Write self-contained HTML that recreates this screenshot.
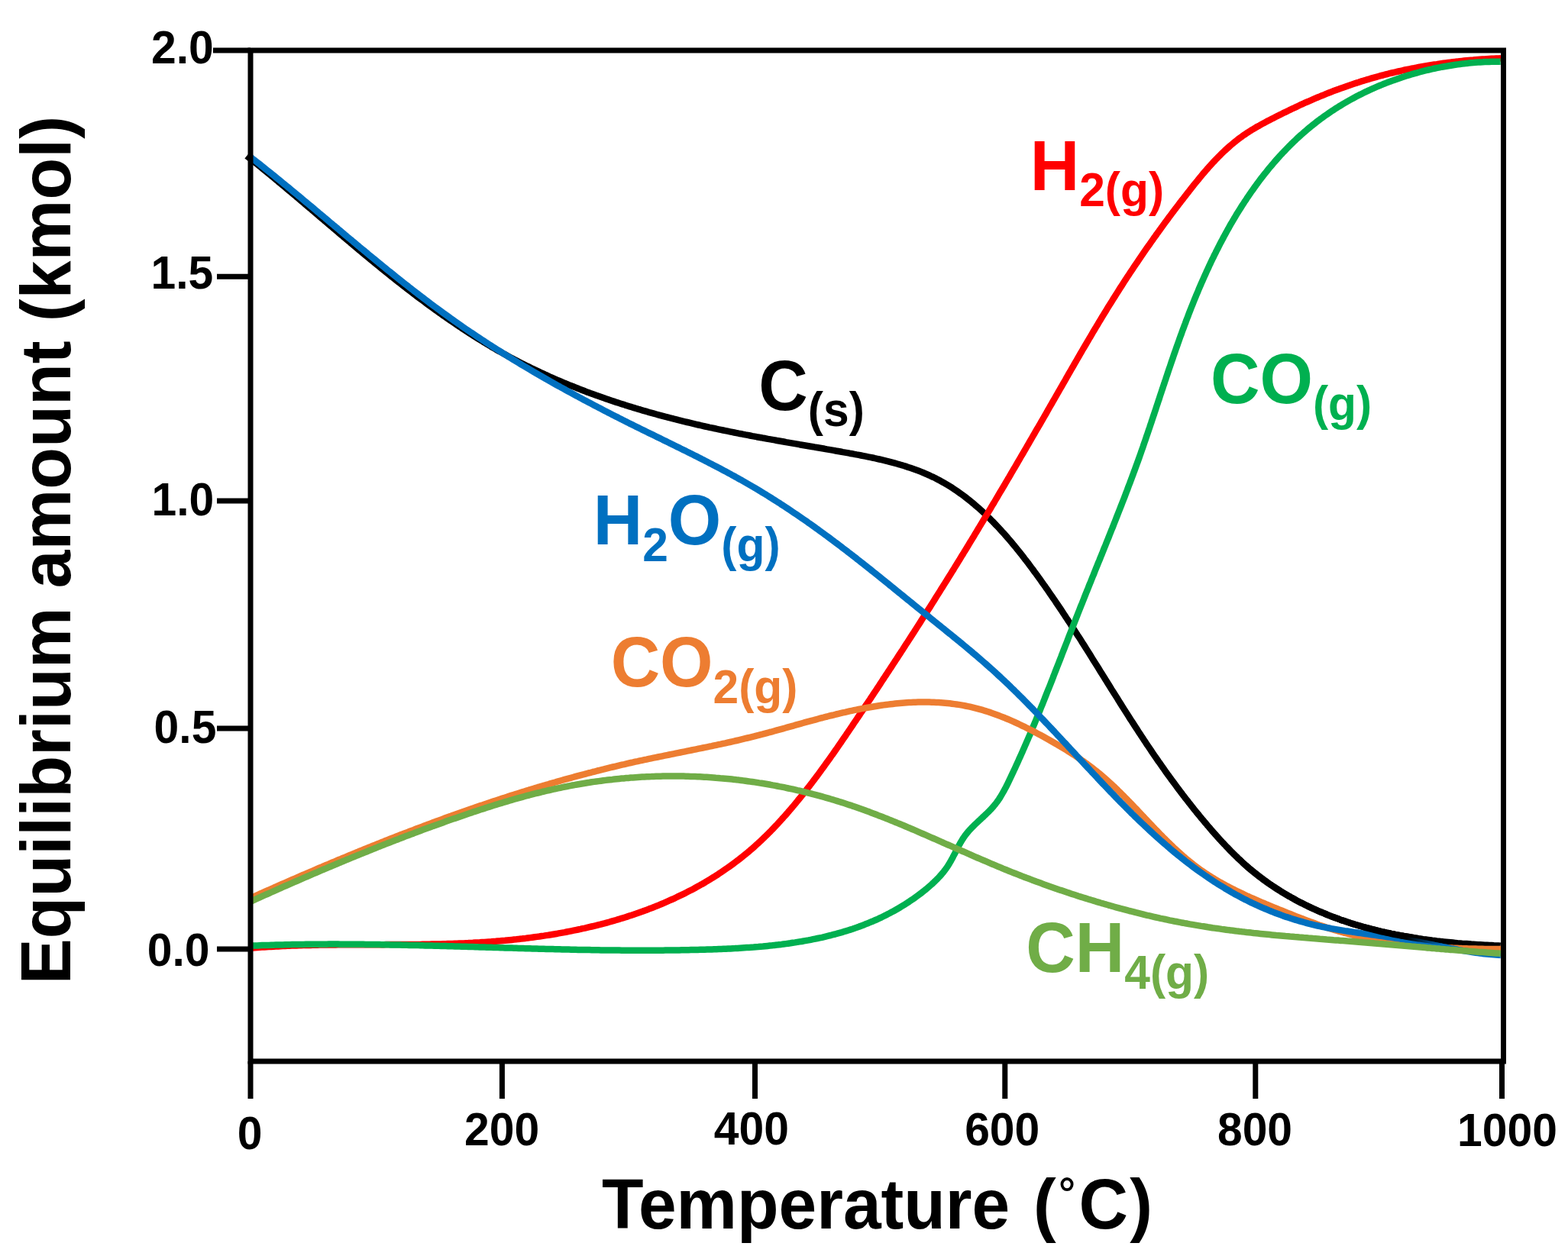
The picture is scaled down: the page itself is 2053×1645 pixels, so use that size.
<!DOCTYPE html>
<html><head><meta charset="utf-8"><title>Equilibrium amount vs Temperature</title>
<style>html,body{margin:0;padding:0;background:#fff;}svg{display:block;}</style>
</head><body>
<svg xmlns="http://www.w3.org/2000/svg" width="2053" height="1645" viewBox="0 0 2053 1645">
<rect width="100%" height="100%" fill="#fff"/>
<path d="M323.1,204.1 L325.4,206.0 L327.7,207.8 L330.0,209.7 L332.4,211.5 L334.7,213.4 L337.0,215.3 L339.3,217.2 L341.6,219.0 L343.9,220.9 L346.3,222.8 L348.6,224.7 L350.9,226.6 L353.2,228.5 L355.5,230.4 L357.8,232.3 L360.1,234.2 L362.4,236.1 L364.7,238.1 L367.0,240.0 L369.3,241.9 L371.6,243.8 L373.9,245.7 L376.2,247.7 L378.5,249.6 L380.8,251.5 L383.1,253.5 L385.4,255.4 L387.7,257.4 L390.0,259.3 L392.3,261.2 L394.6,263.2 L396.8,265.1 L399.1,267.1 L401.4,269.0 L403.7,271.0 L406.0,272.9 L408.3,274.9 L410.6,276.8 L412.9,278.8 L415.2,280.8 L417.5,282.7 L419.8,284.7 L422.1,286.6 L424.4,288.6 L426.7,290.5 L429.0,292.5 L431.3,294.5 L433.6,296.4 L435.9,298.4 L438.2,300.3 L440.5,302.3 L442.8,304.2 L445.1,306.2 L447.4,308.1 L449.7,310.1 L452.0,312.0 L454.3,314.0 L456.6,315.9 L458.9,317.9 L461.2,319.8 L463.5,321.8 L465.8,323.7 L468.2,325.7 L470.5,327.6 L472.8,329.5 L475.1,331.5 L477.4,333.4 L479.8,335.3 L482.1,337.3 L484.4,339.2 L486.8,341.1 L489.1,343.0 L491.4,345.0 L493.8,346.9 L496.1,348.8 L498.4,350.7 L500.8,352.6 L503.1,354.5 L505.5,356.4 L507.8,358.3 L510.2,360.2 L512.5,362.1 L514.9,363.9 L517.3,365.8 L519.6,367.7 L522.0,369.6 L524.4,371.4 L526.7,373.3 L529.1,375.1 L531.5,377.0 L533.9,378.8 L536.3,380.7 L538.6,382.5 L541.0,384.3 L543.4,386.2 L545.8,388.0 L548.2,389.8 L550.6,391.6 L553.1,393.4 L555.5,395.2 L557.9,397.0 L560.3,398.8 L562.7,400.6 L565.2,402.4 L567.6,404.1 L570.0,405.9 L572.5,407.6 L574.9,409.4 L577.4,411.1 L579.8,412.9 L582.3,414.6 L584.7,416.3 L587.2,418.0 L589.7,419.7 L592.1,421.4 L594.6,423.1 L597.1,424.8 L599.6,426.5 L602.1,428.1 L604.6,429.8 L607.1,431.4 L609.6,433.1 L612.1,434.7 L614.6,436.3 L617.2,438.0 L619.7,439.6 L622.2,441.2 L624.8,442.8 L627.3,444.4 L629.8,445.9 L632.4,447.5 L635.0,449.0 L637.5,450.6 L640.1,452.1 L642.7,453.7 L645.3,455.2 L647.8,456.7 L650.4,458.2 L653.0,459.7 L655.6,461.1 L658.3,462.6 L660.9,464.1 L663.5,465.5 L666.1,466.9 L668.8,468.4 L671.4,469.8 L674.1,471.2 L676.7,472.6 L679.4,474.0 L682.0,475.3 L684.7,476.7 L687.4,478.0 L690.1,479.4 L692.8,480.7 L695.5,482.0 L698.2,483.3 L700.9,484.6 L703.6,485.9 L706.3,487.2 L709.0,488.5 L711.8,489.7 L714.5,491.0 L717.2,492.2 L720.0,493.5 L722.7,494.7 L725.5,495.9 L728.2,497.1 L731.0,498.3 L733.8,499.4 L736.5,500.6 L739.3,501.8 L742.1,502.9 L744.9,504.1 L747.7,505.2 L750.5,506.3 L753.3,507.4 L756.1,508.5 L758.9,509.6 L761.7,510.7 L764.5,511.8 L767.3,512.9 L770.1,513.9 L772.9,515.0 L775.8,516.0 L778.6,517.0 L781.4,518.1 L784.3,519.1 L787.1,520.1 L790.0,521.1 L792.8,522.1 L795.7,523.0 L798.5,524.0 L801.4,525.0 L804.2,525.9 L807.1,526.9 L810.0,527.8 L812.8,528.7 L815.7,529.6 L818.6,530.6 L821.5,531.5 L824.3,532.4 L827.2,533.2 L830.1,534.1 L833.0,535.0 L835.9,535.9 L838.8,536.7 L841.7,537.6 L844.5,538.4 L847.4,539.2 L850.3,540.1 L853.2,540.9 L856.1,541.7 L859.1,542.5 L862.0,543.3 L864.9,544.1 L867.8,544.9 L870.7,545.7 L873.6,546.4 L876.5,547.2 L879.4,547.9 L882.4,548.7 L885.3,549.4 L888.2,550.2 L891.1,550.9 L894.0,551.6 L897.0,552.3 L899.9,553.0 L902.8,553.7 L905.7,554.4 L908.7,555.1 L911.6,555.8 L914.5,556.5 L917.5,557.2 L920.4,557.8 L923.3,558.5 L926.2,559.1 L929.2,559.8 L932.1,560.4 L935.0,561.0 L938.0,561.7 L940.9,562.3 L943.8,562.9 L946.8,563.5 L949.7,564.1 L952.6,564.7 L955.6,565.3 L958.5,565.9 L961.4,566.5 L964.4,567.1 L967.3,567.7 L970.3,568.2 L973.2,568.8 L976.1,569.4 L979.1,569.9 L982.0,570.5 L984.9,571.1 L987.9,571.6 L990.8,572.2 L993.8,572.7 L996.7,573.2 L999.6,573.8 L1002.6,574.3 L1005.5,574.9 L1008.5,575.4 L1011.4,575.9 L1014.4,576.4 L1017.3,577.0 L1020.3,577.5 L1023.2,578.0 L1026.2,578.5 L1029.1,579.1 L1032.1,579.6 L1035.0,580.1 L1038.0,580.6 L1041.0,581.1 L1043.9,581.6 L1046.9,582.2 L1049.8,582.7 L1052.8,583.2 L1055.8,583.7 L1058.7,584.2 L1061.7,584.7 L1064.7,585.2 L1067.7,585.8 L1070.6,586.3 L1073.6,586.8 L1076.6,587.3 L1079.6,587.8 L1082.5,588.4 L1085.5,588.9 L1088.5,589.4 L1091.5,589.9 L1094.5,590.5 L1097.5,591.0 L1100.5,591.5 L1103.5,592.1 L1106.5,592.6 L1109.5,593.1 L1112.5,593.7 L1115.5,594.2 L1118.5,594.8 L1121.5,595.4 L1124.5,595.9 L1127.4,596.5 L1130.4,597.1 L1133.4,597.7 L1136.4,598.3 L1139.4,598.9 L1142.4,599.5 L1145.4,600.2 L1148.3,600.8 L1151.3,601.5 L1154.2,602.2 L1157.2,602.9 L1160.1,603.6 L1163.1,604.3 L1166.0,605.1 L1168.9,605.9 L1171.8,606.7 L1174.7,607.5 L1177.6,608.3 L1180.5,609.2 L1183.4,610.0 L1186.2,610.9 L1189.1,611.9 L1191.9,612.8 L1194.7,613.8 L1197.5,614.8 L1200.3,615.8 L1203.1,616.8 L1205.9,617.9 L1208.6,619.0 L1211.3,620.2 L1214.0,621.3 L1216.7,622.5 L1219.4,623.8 L1222.1,625.0 L1224.7,626.3 L1227.3,627.7 L1229.9,629.1 L1232.5,630.5 L1235.1,631.9 L1237.6,633.4 L1240.2,634.9 L1242.7,636.4 L1245.2,637.9 L1247.6,639.5 L1250.1,641.2 L1252.5,642.8 L1254.9,644.5 L1257.3,646.2 L1259.7,647.9 L1262.1,649.7 L1264.5,651.5 L1266.8,653.3 L1269.1,655.1 L1271.4,657.0 L1273.7,658.9 L1276.0,660.8 L1278.2,662.8 L1280.5,664.7 L1282.7,666.7 L1284.9,668.7 L1287.1,670.7 L1289.3,672.8 L1291.5,674.9 L1293.6,676.9 L1295.8,679.1 L1297.9,681.2 L1300.0,683.3 L1302.1,685.5 L1304.2,687.7 L1306.3,689.9 L1308.4,692.1 L1310.4,694.3 L1312.4,696.6 L1314.5,698.8 L1316.5,701.1 L1318.5,703.4 L1320.5,705.7 L1322.5,708.0 L1324.4,710.3 L1326.4,712.7 L1328.3,715.0 L1330.3,717.4 L1332.2,719.8 L1334.1,722.2 L1336.0,724.5 L1337.9,726.9 L1339.8,729.4 L1341.6,731.8 L1343.5,734.2 L1345.4,736.6 L1347.2,739.1 L1349.0,741.5 L1350.9,744.0 L1352.7,746.4 L1354.5,748.9 L1356.3,751.3 L1358.1,753.8 L1359.9,756.2 L1361.7,758.7 L1363.4,761.2 L1365.2,763.7 L1366.9,766.1 L1368.7,768.6 L1370.4,771.1 L1372.2,773.6 L1373.9,776.1 L1375.6,778.6 L1377.3,781.0 L1379.0,783.5 L1380.8,786.0 L1382.4,788.5 L1384.1,791.0 L1385.8,793.5 L1387.5,796.0 L1389.2,798.5 L1390.9,801.1 L1392.5,803.6 L1394.2,806.1 L1395.8,808.6 L1397.5,811.1 L1399.1,813.6 L1400.8,816.1 L1402.4,818.7 L1404.0,821.2 L1405.7,823.7 L1407.3,826.2 L1408.9,828.7 L1410.5,831.3 L1412.2,833.8 L1413.8,836.3 L1415.4,838.8 L1417.0,841.4 L1418.6,843.9 L1420.2,846.4 L1421.8,849.0 L1423.4,851.5 L1425.0,854.0 L1426.6,856.6 L1428.2,859.1 L1429.7,861.6 L1431.3,864.2 L1432.9,866.7 L1434.5,869.2 L1436.1,871.8 L1437.7,874.3 L1439.2,876.8 L1440.8,879.4 L1442.4,881.9 L1444.0,884.5 L1445.6,887.0 L1447.1,889.5 L1448.7,892.1 L1450.3,894.6 L1451.9,897.1 L1453.5,899.7 L1455.0,902.2 L1456.6,904.7 L1458.2,907.3 L1459.8,909.8 L1461.4,912.3 L1463.0,914.8 L1464.6,917.4 L1466.1,919.9 L1467.7,922.4 L1469.3,925.0 L1470.9,927.5 L1472.5,930.0 L1474.1,932.5 L1475.7,935.0 L1477.3,937.6 L1478.9,940.1 L1480.5,942.6 L1482.2,945.1 L1483.8,947.6 L1485.4,950.1 L1487.0,952.6 L1488.7,955.2 L1490.3,957.7 L1491.9,960.2 L1493.6,962.7 L1495.2,965.2 L1496.9,967.7 L1498.5,970.2 L1500.2,972.7 L1501.8,975.2 L1503.5,977.6 L1505.2,980.1 L1506.9,982.6 L1508.5,985.1 L1510.2,987.6 L1511.9,990.1 L1513.6,992.5 L1515.3,995.0 L1517.0,997.5 L1518.8,999.9 L1520.5,1002.4 L1522.2,1004.9 L1524.0,1007.3 L1525.7,1009.8 L1527.4,1012.2 L1529.2,1014.7 L1531.0,1017.1 L1532.7,1019.5 L1534.5,1022.0 L1536.3,1024.4 L1538.1,1026.8 L1539.9,1029.2 L1541.7,1031.7 L1543.5,1034.1 L1545.3,1036.5 L1547.1,1038.9 L1548.9,1041.3 L1550.8,1043.7 L1552.6,1046.1 L1554.5,1048.4 L1556.3,1050.8 L1558.2,1053.2 L1560.1,1055.6 L1561.9,1057.9 L1563.8,1060.3 L1565.7,1062.6 L1567.6,1065.0 L1569.5,1067.3 L1571.4,1069.6 L1573.3,1072.0 L1575.3,1074.3 L1577.2,1076.6 L1579.2,1078.9 L1581.1,1081.2 L1583.1,1083.5 L1585.0,1085.8 L1587.0,1088.1 L1589.0,1090.3 L1591.0,1092.6 L1593.0,1094.8 L1595.0,1097.1 L1597.0,1099.3 L1599.1,1101.6 L1601.1,1103.8 L1603.2,1106.0 L1605.2,1108.2 L1607.3,1110.3 L1609.4,1112.5 L1611.5,1114.7 L1613.6,1116.8 L1615.7,1118.9 L1617.9,1121.0 L1620.0,1123.1 L1622.2,1125.2 L1624.4,1127.2 L1626.6,1129.3 L1628.8,1131.3 L1631.0,1133.3 L1633.2,1135.2 L1635.5,1137.2 L1637.8,1139.1 L1640.1,1141.0 L1642.4,1142.9 L1644.7,1144.7 L1647.1,1146.6 L1649.4,1148.4 L1651.8,1150.2 L1654.2,1152.0 L1656.6,1153.7 L1659.0,1155.5 L1661.5,1157.2 L1663.9,1158.9 L1666.4,1160.5 L1668.9,1162.2 L1671.4,1163.8 L1673.9,1165.4 L1676.4,1167.0 L1678.9,1168.6 L1681.5,1170.1 L1684.0,1171.6 L1686.6,1173.2 L1689.2,1174.6 L1691.8,1176.1 L1694.4,1177.5 L1697.0,1179.0 L1699.7,1180.4 L1702.3,1181.8 L1705.0,1183.1 L1707.7,1184.5 L1710.3,1185.8 L1713.0,1187.1 L1715.7,1188.4 L1718.4,1189.7 L1721.2,1190.9 L1723.9,1192.1 L1726.6,1193.3 L1729.4,1194.5 L1732.2,1195.7 L1734.9,1196.8 L1737.7,1198.0 L1740.5,1199.1 L1743.3,1200.2 L1746.1,1201.2 L1748.9,1202.3 L1751.8,1203.3 L1754.6,1204.4 L1757.4,1205.4 L1760.3,1206.3 L1763.1,1207.3 L1766.0,1208.2 L1768.9,1209.2 L1771.8,1210.1 L1774.6,1211.0 L1777.5,1211.8 L1780.4,1212.7 L1783.3,1213.5 L1786.2,1214.3 L1789.1,1215.1 L1792.1,1215.9 L1795.0,1216.7 L1797.9,1217.4 L1800.9,1218.2 L1803.8,1218.9 L1806.7,1219.6 L1809.7,1220.3 L1812.6,1220.9 L1815.6,1221.6 L1818.6,1222.2 L1821.5,1222.9 L1824.5,1223.5 L1827.5,1224.1 L1830.4,1224.6 L1833.4,1225.2 L1836.4,1225.7 L1839.4,1226.3 L1842.4,1226.8 L1845.4,1227.3 L1848.3,1227.8 L1851.3,1228.3 L1854.3,1228.7 L1857.3,1229.2 L1860.3,1229.6 L1863.3,1230.1 L1866.3,1230.5 L1869.3,1230.9 L1872.3,1231.3 L1875.3,1231.7 L1878.3,1232.0 L1881.3,1232.4 L1884.3,1232.7 L1887.3,1233.1 L1890.3,1233.4 L1893.3,1233.7 L1896.3,1234.0 L1899.3,1234.3 L1902.3,1234.6 L1905.3,1234.9 L1908.3,1235.2 L1911.3,1235.4 L1914.3,1235.7 L1917.3,1235.9 L1920.3,1236.1 L1923.3,1236.3 L1926.2,1236.6 L1929.2,1236.8 L1932.2,1237.0 L1935.2,1237.2 L1938.1,1237.3 L1941.1,1237.5 L1944.1,1237.7 L1947.0,1237.8 L1950.0,1238.0 L1952.9,1238.1 L1955.9,1238.3 L1958.8,1238.4 L1961.8,1238.5 L1964.7,1238.7" fill="none" stroke="#000000" stroke-width="8.5" stroke-linejoin="round" stroke-linecap="butt"/>
<path d="M327.9,1241.8 L330.9,1241.5 L333.9,1241.3 L337.0,1241.1 L340.0,1240.8 L343.0,1240.6 L346.1,1240.4 L349.1,1240.2 L352.1,1240.1 L355.1,1239.9 L358.2,1239.7 L361.2,1239.6 L364.2,1239.4 L367.2,1239.2 L370.3,1239.1 L373.3,1239.0 L376.3,1238.8 L379.3,1238.7 L382.3,1238.6 L385.4,1238.5 L388.4,1238.4 L391.4,1238.3 L394.4,1238.2 L397.4,1238.1 L400.4,1238.0 L403.4,1238.0 L406.5,1237.9 L409.5,1237.8 L412.5,1237.8 L415.5,1237.7 L418.5,1237.6 L421.5,1237.6 L424.5,1237.5 L427.5,1237.5 L430.5,1237.5 L433.5,1237.4 L436.5,1237.4 L439.5,1237.4 L442.5,1237.3 L445.5,1237.3 L448.5,1237.3 L451.5,1237.3 L454.5,1237.3 L457.5,1237.2 L460.5,1237.2 L463.5,1237.2 L466.5,1237.2 L469.5,1237.2 L472.5,1237.2 L475.5,1237.2 L478.5,1237.2 L481.5,1237.2 L484.5,1237.2 L487.5,1237.2 L490.5,1237.2 L493.5,1237.2 L496.5,1237.2 L499.5,1237.2 L502.4,1237.2 L505.4,1237.1 L508.4,1237.1 L511.4,1237.1 L514.4,1237.1 L517.4,1237.1 L520.4,1237.1 L523.4,1237.1 L526.4,1237.1 L529.4,1237.1 L532.4,1237.0 L535.4,1237.0 L538.3,1237.0 L541.3,1237.0 L544.3,1236.9 L547.3,1236.9 L550.3,1236.9 L553.3,1236.8 L556.3,1236.8 L559.3,1236.7 L562.3,1236.7 L565.3,1236.6 L568.2,1236.6 L571.2,1236.5 L574.2,1236.4 L577.2,1236.4 L580.2,1236.3 L583.2,1236.2 L586.2,1236.1 L589.2,1236.0 L592.2,1235.9 L595.2,1235.8 L598.2,1235.7 L601.2,1235.6 L604.2,1235.5 L607.1,1235.4 L610.1,1235.2 L613.1,1235.1 L616.1,1234.9 L619.1,1234.8 L622.1,1234.6 L625.1,1234.4 L628.1,1234.3 L631.1,1234.1 L634.1,1233.9 L637.1,1233.7 L640.1,1233.5 L643.1,1233.3 L646.1,1233.0 L649.1,1232.8 L652.1,1232.5 L655.1,1232.3 L658.1,1232.0 L661.1,1231.8 L664.1,1231.5 L667.1,1231.2 L670.1,1230.9 L673.1,1230.6 L676.1,1230.3 L679.1,1229.9 L682.1,1229.6 L685.1,1229.2 L688.1,1228.9 L691.1,1228.5 L694.1,1228.1 L697.1,1227.7 L700.2,1227.3 L703.2,1226.9 L706.2,1226.5 L709.2,1226.0 L712.1,1225.6 L715.1,1225.1 L718.1,1224.7 L721.1,1224.2 L724.1,1223.7 L727.1,1223.2 L730.1,1222.7 L733.1,1222.1 L736.1,1221.6 L739.1,1221.1 L742.0,1220.5 L745.0,1219.9 L748.0,1219.3 L751.0,1218.7 L753.9,1218.1 L756.9,1217.5 L759.9,1216.9 L762.8,1216.2 L765.8,1215.6 L768.7,1214.9 L771.7,1214.2 L774.6,1213.5 L777.6,1212.8 L780.5,1212.1 L783.4,1211.3 L786.4,1210.6 L789.3,1209.8 L792.2,1209.1 L795.1,1208.3 L798.0,1207.5 L800.9,1206.6 L803.8,1205.8 L806.7,1205.0 L809.6,1204.1 L812.5,1203.2 L815.4,1202.4 L818.3,1201.5 L821.1,1200.6 L824.0,1199.6 L826.8,1198.7 L829.7,1197.7 L832.5,1196.8 L835.4,1195.8 L838.2,1194.8 L841.0,1193.8 L843.8,1192.7 L846.7,1191.7 L849.5,1190.6 L852.3,1189.6 L855.1,1188.5 L857.8,1187.4 L860.6,1186.3 L863.4,1185.1 L866.1,1184.0 L868.9,1182.8 L871.6,1181.6 L874.4,1180.4 L877.1,1179.2 L879.8,1178.0 L882.5,1176.8 L885.2,1175.5 L887.9,1174.2 L890.6,1172.9 L893.3,1171.6 L896.0,1170.3 L898.6,1169.0 L901.3,1167.6 L903.9,1166.3 L906.6,1164.9 L909.2,1163.5 L911.8,1162.0 L914.4,1160.6 L917.0,1159.1 L919.6,1157.7 L922.2,1156.2 L924.7,1154.7 L927.3,1153.1 L929.8,1151.6 L932.3,1150.0 L934.9,1148.5 L937.4,1146.9 L939.9,1145.3 L942.4,1143.6 L944.8,1142.0 L947.3,1140.3 L949.8,1138.6 L952.2,1136.9 L954.6,1135.2 L957.0,1133.5 L959.5,1131.7 L961.9,1129.9 L964.2,1128.2 L966.6,1126.3 L969.0,1124.5 L971.3,1122.7 L973.6,1120.8 L976.0,1118.9 L978.3,1117.0 L980.6,1115.1 L982.8,1113.1 L985.1,1111.2 L987.4,1109.2 L989.6,1107.2 L991.8,1105.2 L994.0,1103.1 L996.2,1101.1 L998.4,1099.0 L1000.6,1096.9 L1002.8,1094.8 L1004.9,1092.7 L1007.1,1090.5 L1009.2,1088.4 L1011.3,1086.2 L1013.4,1084.0 L1015.5,1081.8 L1017.6,1079.6 L1019.6,1077.4 L1021.7,1075.1 L1023.7,1072.9 L1025.7,1070.6 L1027.8,1068.4 L1029.8,1066.1 L1031.8,1063.8 L1033.7,1061.5 L1035.7,1059.2 L1037.7,1056.9 L1039.6,1054.6 L1041.6,1052.2 L1043.5,1049.9 L1045.4,1047.5 L1047.3,1045.2 L1049.2,1042.8 L1051.1,1040.5 L1053.0,1038.1 L1054.9,1035.7 L1056.7,1033.3 L1058.6,1031.0 L1060.4,1028.6 L1062.3,1026.2 L1064.1,1023.8 L1065.9,1021.4 L1067.7,1019.0 L1069.5,1016.6 L1071.3,1014.2 L1073.1,1011.8 L1074.9,1009.3 L1076.6,1006.9 L1078.4,1004.5 L1080.1,1002.1 L1081.9,999.6 L1083.6,997.2 L1085.4,994.8 L1087.1,992.3 L1088.8,989.9 L1090.6,987.4 L1092.3,985.0 L1094.0,982.5 L1095.7,980.1 L1097.4,977.6 L1099.1,975.1 L1100.8,972.7 L1102.5,970.2 L1104.2,967.7 L1105.9,965.3 L1107.6,962.8 L1109.2,960.3 L1110.9,957.8 L1112.6,955.4 L1114.3,952.9 L1116.0,950.4 L1117.6,947.9 L1119.3,945.4 L1121.0,943.0 L1122.6,940.5 L1124.3,938.0 L1126.0,935.5 L1127.6,933.0 L1129.3,930.5 L1131.0,928.0 L1132.6,925.5 L1134.3,923.0 L1135.9,920.6 L1137.6,918.1 L1139.3,915.6 L1140.9,913.1 L1142.6,910.6 L1144.2,908.1 L1145.9,905.6 L1147.6,903.1 L1149.2,900.6 L1150.9,898.1 L1152.5,895.6 L1154.2,893.0 L1155.8,890.5 L1157.5,888.0 L1159.1,885.5 L1160.8,883.0 L1162.4,880.5 L1164.1,878.0 L1165.7,875.5 L1167.4,873.0 L1169.0,870.4 L1170.7,867.9 L1172.3,865.4 L1174.0,862.9 L1175.6,860.4 L1177.2,857.9 L1178.9,855.3 L1180.5,852.8 L1182.2,850.3 L1183.8,847.8 L1185.4,845.2 L1187.1,842.7 L1188.7,840.2 L1190.3,837.7 L1192.0,835.1 L1193.6,832.6 L1195.2,830.1 L1196.9,827.6 L1198.5,825.0 L1200.1,822.5 L1201.7,820.0 L1203.4,817.4 L1205.0,814.9 L1206.6,812.3 L1208.2,809.8 L1209.8,807.3 L1211.4,804.7 L1213.1,802.2 L1214.7,799.6 L1216.3,797.1 L1217.9,794.6 L1219.5,792.0 L1221.1,789.5 L1222.7,786.9 L1224.3,784.4 L1225.9,781.8 L1227.5,779.3 L1229.1,776.7 L1230.7,774.2 L1232.3,771.6 L1233.9,769.1 L1235.5,766.5 L1237.1,764.0 L1238.7,761.4 L1240.3,758.9 L1241.9,756.3 L1243.5,753.7 L1245.1,751.2 L1246.7,748.6 L1248.3,746.1 L1249.8,743.5 L1251.4,740.9 L1253.0,738.4 L1254.6,735.8 L1256.2,733.3 L1257.7,730.7 L1259.3,728.1 L1260.9,725.6 L1262.4,723.0 L1264.0,720.4 L1265.6,717.9 L1267.2,715.3 L1268.7,712.7 L1270.3,710.1 L1271.8,707.6 L1273.4,705.0 L1275.0,702.4 L1276.5,699.8 L1278.1,697.3 L1279.6,694.7 L1281.2,692.1 L1282.7,689.5 L1284.3,687.0 L1285.8,684.4 L1287.4,681.8 L1288.9,679.2 L1290.5,676.6 L1292.0,674.1 L1293.6,671.5 L1295.1,668.9 L1296.7,666.3 L1298.2,663.7 L1299.7,661.1 L1301.3,658.6 L1302.8,656.0 L1304.3,653.4 L1305.9,650.8 L1307.4,648.2 L1308.9,645.6 L1310.5,643.0 L1312.0,640.5 L1313.5,637.9 L1315.1,635.3 L1316.6,632.7 L1318.1,630.1 L1319.6,627.5 L1321.2,624.9 L1322.7,622.3 L1324.2,619.7 L1325.7,617.1 L1327.2,614.5 L1328.8,611.9 L1330.3,609.3 L1331.8,606.8 L1333.3,604.2 L1334.8,601.6 L1336.3,599.0 L1337.8,596.4 L1339.4,593.8 L1340.9,591.2 L1342.4,588.6 L1343.9,586.0 L1345.4,583.4 L1346.9,580.8 L1348.4,578.2 L1349.9,575.6 L1351.4,573.0 L1352.9,570.4 L1354.4,567.8 L1355.9,565.2 L1357.4,562.6 L1359.0,560.0 L1360.5,557.4 L1362.0,554.8 L1363.5,552.2 L1365.0,549.6 L1366.5,547.0 L1368.0,544.4 L1369.5,541.8 L1371.0,539.2 L1372.4,536.6 L1373.9,534.0 L1375.4,531.4 L1376.9,528.8 L1378.4,526.2 L1379.9,523.6 L1381.4,521.0 L1382.9,518.4 L1384.4,515.7 L1385.9,513.1 L1387.4,510.5 L1388.9,507.9 L1390.4,505.3 L1391.9,502.7 L1393.4,500.1 L1394.9,497.5 L1396.3,494.9 L1397.8,492.3 L1399.3,489.7 L1400.8,487.1 L1402.3,484.5 L1403.8,481.9 L1405.3,479.3 L1406.8,476.7 L1408.3,474.1 L1409.8,471.5 L1411.3,468.9 L1412.8,466.3 L1414.3,463.7 L1415.8,461.1 L1417.3,458.5 L1418.8,455.9 L1420.4,453.3 L1421.9,450.8 L1423.4,448.2 L1424.9,445.6 L1426.4,443.0 L1428.0,440.4 L1429.5,437.8 L1431.0,435.2 L1432.5,432.7 L1434.1,430.1 L1435.6,427.5 L1437.2,424.9 L1438.7,422.3 L1440.3,419.8 L1441.8,417.2 L1443.4,414.6 L1444.9,412.1 L1446.5,409.5 L1448.1,406.9 L1449.6,404.4 L1451.2,401.8 L1452.8,399.3 L1454.4,396.7 L1456.0,394.2 L1457.6,391.6 L1459.2,389.1 L1460.8,386.5 L1462.4,384.0 L1464.0,381.4 L1465.6,378.9 L1467.2,376.4 L1468.9,373.8 L1470.5,371.3 L1472.1,368.8 L1473.8,366.2 L1475.4,363.7 L1477.1,361.2 L1478.7,358.7 L1480.4,356.2 L1482.1,353.7 L1483.7,351.2 L1485.4,348.7 L1487.1,346.1 L1488.8,343.7 L1490.5,341.2 L1492.2,338.7 L1493.9,336.2 L1495.6,333.7 L1497.3,331.2 L1499.0,328.7 L1500.7,326.2 L1502.4,323.8 L1504.2,321.3 L1505.9,318.8 L1507.6,316.4 L1509.4,313.9 L1511.1,311.4 L1512.9,309.0 L1514.6,306.5 L1516.4,304.1 L1518.1,301.7 L1519.9,299.2 L1521.7,296.8 L1523.5,294.3 L1525.2,291.9 L1527.0,289.5 L1528.8,287.1 L1530.6,284.6 L1532.4,282.2 L1534.2,279.8 L1536.0,277.4 L1537.8,275.0 L1539.6,272.6 L1541.5,270.2 L1543.3,267.8 L1545.1,265.4 L1546.9,263.0 L1548.8,260.7 L1550.6,258.3 L1552.5,255.9 L1554.3,253.5 L1556.2,251.2 L1558.0,248.8 L1559.9,246.4 L1561.7,244.1 L1563.6,241.7 L1565.5,239.4 L1567.4,237.1 L1569.3,234.8 L1571.2,232.4 L1573.1,230.1 L1575.0,227.8 L1576.9,225.6 L1578.9,223.3 L1580.8,221.1 L1582.8,218.8 L1584.8,216.6 L1586.8,214.4 L1588.8,212.2 L1590.9,210.0 L1592.9,207.9 L1595.0,205.8 L1597.1,203.7 L1599.2,201.6 L1601.3,199.5 L1603.4,197.5 L1605.6,195.5 L1607.8,193.5 L1610.0,191.5 L1612.2,189.6 L1614.5,187.7 L1616.8,185.8 L1619.1,184.0 L1621.4,182.2 L1623.8,180.4 L1626.2,178.7 L1628.6,176.9 L1631.1,175.3 L1633.6,173.6 L1636.1,172.0 L1638.6,170.4 L1641.2,168.9 L1643.8,167.3 L1646.4,165.8 L1649.0,164.4 L1651.6,162.9 L1654.3,161.4 L1657.0,160.0 L1659.6,158.6 L1662.3,157.2 L1665.0,155.8 L1667.7,154.4 L1670.4,153.0 L1673.1,151.7 L1675.8,150.3 L1678.5,149.0 L1681.2,147.6 L1684.0,146.3 L1686.7,145.0 L1689.4,143.7 L1692.1,142.3 L1694.9,141.1 L1697.6,139.8 L1700.4,138.5 L1703.1,137.2 L1705.9,136.0 L1708.6,134.7 L1711.4,133.5 L1714.2,132.3 L1717.0,131.1 L1719.7,129.9 L1722.5,128.7 L1725.3,127.5 L1728.1,126.4 L1730.9,125.2 L1733.7,124.1 L1736.5,122.9 L1739.3,121.8 L1742.1,120.7 L1744.9,119.6 L1747.7,118.6 L1750.6,117.5 L1753.4,116.5 L1756.2,115.4 L1759.1,114.4 L1761.9,113.4 L1764.7,112.4 L1767.6,111.4 L1770.4,110.5 L1773.3,109.5 L1776.1,108.6 L1779.0,107.7 L1781.9,106.7 L1784.7,105.9 L1787.6,105.0 L1790.5,104.1 L1793.3,103.3 L1796.2,102.4 L1799.1,101.6 L1802.0,100.8 L1804.9,100.0 L1807.8,99.2 L1810.7,98.5 L1813.6,97.7 L1816.5,97.0 L1819.4,96.2 L1822.3,95.5 L1825.2,94.8 L1828.1,94.2 L1831.0,93.5 L1834.0,92.8 L1836.9,92.2 L1839.8,91.5 L1842.7,90.9 L1845.7,90.3 L1848.6,89.7 L1851.5,89.2 L1854.5,88.6 L1857.4,88.0 L1860.4,87.5 L1863.3,87.0 L1866.3,86.5 L1869.2,86.0 L1872.2,85.5 L1875.2,85.0 L1878.1,84.5 L1881.1,84.1 L1884.1,83.6 L1887.0,83.2 L1890.0,82.8 L1893.0,82.4 L1896.0,82.0 L1898.9,81.6 L1901.9,81.2 L1904.9,80.9 L1907.9,80.6 L1910.9,80.2 L1913.9,79.9 L1916.9,79.6 L1919.9,79.3 L1922.9,79.0 L1925.9,78.7 L1928.9,78.5 L1931.9,78.2 L1934.9,78.0 L1937.9,77.8 L1940.9,77.6 L1943.9,77.4 L1947.0,77.2 L1950.0,77.0 L1953.0,76.8 L1956.0,76.7 L1959.1,76.5 L1962.1,76.4 L1965.1,76.2" fill="none" stroke="#FF0000" stroke-width="8.5" stroke-linejoin="round" stroke-linecap="butt"/>
<path d="M327.7,1238.7 L330.8,1238.6 L333.8,1238.5 L336.8,1238.4 L339.9,1238.2 L342.9,1238.1 L346.0,1238.0 L349.0,1237.9 L352.0,1237.9 L355.1,1237.8 L358.1,1237.7 L361.1,1237.6 L364.2,1237.5 L367.2,1237.4 L370.2,1237.4 L373.2,1237.3 L376.3,1237.2 L379.3,1237.2 L382.3,1237.1 L385.3,1237.1 L388.4,1237.0 L391.4,1237.0 L394.4,1236.9 L397.4,1236.9 L400.5,1236.8 L403.5,1236.8 L406.5,1236.8 L409.5,1236.8 L412.5,1236.7 L415.5,1236.7 L418.6,1236.7 L421.6,1236.7 L424.6,1236.7 L427.6,1236.7 L430.6,1236.6 L433.6,1236.6 L436.6,1236.6 L439.6,1236.6 L442.6,1236.6 L445.6,1236.7 L448.7,1236.7 L451.7,1236.7 L454.7,1236.7 L457.7,1236.7 L460.7,1236.7 L463.7,1236.7 L466.7,1236.8 L469.7,1236.8 L472.7,1236.8 L475.7,1236.8 L478.7,1236.9 L481.7,1236.9 L484.7,1237.0 L487.7,1237.0 L490.7,1237.0 L493.7,1237.1 L496.7,1237.1 L499.7,1237.2 L502.7,1237.2 L505.7,1237.3 L508.7,1237.3 L511.6,1237.4 L514.6,1237.4 L517.6,1237.5 L520.6,1237.5 L523.6,1237.6 L526.6,1237.7 L529.6,1237.7 L532.6,1237.8 L535.6,1237.9 L538.6,1237.9 L541.6,1238.0 L544.6,1238.1 L547.6,1238.1 L550.5,1238.2 L553.5,1238.3 L556.5,1238.4 L559.5,1238.4 L562.5,1238.5 L565.5,1238.6 L568.5,1238.7 L571.5,1238.7 L574.4,1238.8 L577.4,1238.9 L580.4,1239.0 L583.4,1239.1 L586.4,1239.2 L589.4,1239.2 L592.4,1239.3 L595.4,1239.4 L598.3,1239.5 L601.3,1239.6 L604.3,1239.7 L607.3,1239.8 L610.3,1239.8 L613.3,1239.9 L616.3,1240.0 L619.2,1240.1 L622.2,1240.2 L625.2,1240.3 L628.2,1240.4 L631.2,1240.5 L634.2,1240.6 L637.2,1240.7 L640.1,1240.7 L643.1,1240.8 L646.1,1240.9 L649.1,1241.0 L652.1,1241.1 L655.1,1241.2 L658.1,1241.3 L661.1,1241.4 L664.0,1241.5 L667.0,1241.6 L670.0,1241.6 L673.0,1241.7 L676.0,1241.8 L679.0,1241.9 L682.0,1242.0 L685.0,1242.1 L687.9,1242.2 L690.9,1242.2 L693.9,1242.3 L696.9,1242.4 L699.9,1242.5 L702.9,1242.6 L705.9,1242.7 L708.9,1242.7 L711.9,1242.8 L714.9,1242.9 L717.8,1243.0 L720.8,1243.0 L723.8,1243.1 L726.8,1243.2 L729.8,1243.3 L732.8,1243.3 L735.8,1243.4 L738.8,1243.5 L741.8,1243.5 L744.8,1243.6 L747.8,1243.7 L750.8,1243.7 L753.8,1243.8 L756.8,1243.9 L759.8,1243.9 L762.8,1244.0 L765.8,1244.0 L768.8,1244.1 L771.8,1244.1 L774.8,1244.2 L777.8,1244.2 L780.8,1244.3 L783.8,1244.3 L786.8,1244.4 L789.8,1244.4 L792.8,1244.5 L795.8,1244.5 L798.8,1244.5 L801.8,1244.6 L804.8,1244.6 L807.8,1244.6 L810.8,1244.6 L813.9,1244.7 L816.9,1244.7 L819.9,1244.7 L822.9,1244.7 L825.9,1244.7 L828.9,1244.7 L831.9,1244.8 L834.9,1244.8 L838.0,1244.8 L841.0,1244.8 L844.0,1244.8 L847.0,1244.8 L850.0,1244.8 L853.1,1244.7 L856.1,1244.7 L859.1,1244.7 L862.1,1244.7 L865.2,1244.7 L868.2,1244.7 L871.2,1244.6 L874.2,1244.6 L877.3,1244.6 L880.3,1244.5 L883.3,1244.5 L886.4,1244.4 L889.4,1244.4 L892.4,1244.3 L895.5,1244.3 L898.5,1244.2 L901.5,1244.2 L904.6,1244.1 L907.6,1244.0 L910.7,1244.0 L913.7,1243.9 L916.7,1243.8 L919.8,1243.7 L922.8,1243.7 L925.9,1243.6 L928.9,1243.5 L932.0,1243.4 L935.0,1243.3 L938.1,1243.2 L941.1,1243.0 L944.2,1242.9 L947.2,1242.8 L950.3,1242.7 L953.3,1242.5 L956.4,1242.4 L959.4,1242.2 L962.4,1242.1 L965.5,1241.9 L968.5,1241.7 L971.6,1241.5 L974.6,1241.3 L977.7,1241.1 L980.7,1240.9 L983.7,1240.7 L986.8,1240.5 L989.8,1240.2 L992.8,1240.0 L995.9,1239.7 L998.9,1239.5 L1001.9,1239.2 L1004.9,1238.9 L1007.9,1238.6 L1011.0,1238.3 L1014.0,1237.9 L1017.0,1237.6 L1020.0,1237.2 L1023.0,1236.9 L1026.0,1236.5 L1029.0,1236.1 L1032.0,1235.7 L1034.9,1235.3 L1037.9,1234.8 L1040.9,1234.4 L1043.9,1233.9 L1046.8,1233.4 L1049.8,1233.0 L1052.7,1232.4 L1055.7,1231.9 L1058.6,1231.4 L1061.6,1230.8 L1064.5,1230.2 L1067.4,1229.6 L1070.3,1229.0 L1073.3,1228.4 L1076.2,1227.8 L1079.1,1227.1 L1082.0,1226.4 L1084.8,1225.7 L1087.7,1225.0 L1090.6,1224.2 L1093.5,1223.5 L1096.3,1222.7 L1099.2,1221.9 L1102.0,1221.1 L1104.8,1220.2 L1107.7,1219.4 L1110.5,1218.5 L1113.3,1217.6 L1116.1,1216.7 L1118.9,1215.7 L1121.7,1214.8 L1124.5,1213.8 L1127.2,1212.7 L1130.0,1211.7 L1132.7,1210.6 L1135.5,1209.6 L1138.2,1208.4 L1140.9,1207.3 L1143.6,1206.2 L1146.3,1205.0 L1149.0,1203.8 L1151.7,1202.5 L1154.4,1201.3 L1157.0,1200.0 L1159.7,1198.7 L1162.3,1197.3 L1164.9,1196.0 L1167.5,1194.6 L1170.1,1193.2 L1172.7,1191.7 L1175.3,1190.2 L1177.9,1188.7 L1180.4,1187.2 L1183.0,1185.6 L1185.5,1184.1 L1188.0,1182.4 L1190.5,1180.8 L1193.0,1179.1 L1195.5,1177.4 L1197.9,1175.7 L1200.4,1173.9 L1202.8,1172.1 L1205.3,1170.3 L1207.7,1168.4 L1210.1,1166.5 L1212.5,1164.6 L1214.8,1162.6 L1217.1,1160.6 L1219.4,1158.6 L1221.7,1156.5 L1223.9,1154.4 L1226.1,1152.3 L1228.2,1150.1 L1230.3,1147.9 L1232.3,1145.6 L1234.3,1143.3 L1236.2,1140.9 L1238.0,1138.5 L1239.7,1136.1 L1241.4,1133.6 L1243.0,1131.0 L1244.5,1128.4 L1245.9,1125.8 L1247.4,1123.2 L1248.7,1120.5 L1250.1,1117.9 L1251.5,1115.2 L1252.8,1112.5 L1254.2,1109.9 L1255.6,1107.3 L1257.0,1104.7 L1258.5,1102.1 L1260.0,1099.6 L1261.6,1097.1 L1263.3,1094.7 L1265.1,1092.4 L1266.9,1090.1 L1268.9,1087.8 L1270.9,1085.6 L1272.9,1083.5 L1275.0,1081.4 L1277.2,1079.3 L1279.4,1077.2 L1281.6,1075.1 L1283.8,1073.1 L1286.0,1071.0 L1288.2,1069.0 L1290.4,1066.9 L1292.6,1064.8 L1294.7,1062.7 L1296.8,1060.6 L1298.8,1058.4 L1300.8,1056.1 L1302.7,1053.8 L1304.5,1051.5 L1306.3,1049.1 L1308.0,1046.6 L1309.6,1044.1 L1311.1,1041.6 L1312.6,1039.0 L1314.1,1036.4 L1315.5,1033.8 L1316.9,1031.2 L1318.3,1028.5 L1319.6,1025.8 L1320.9,1023.1 L1322.2,1020.4 L1323.5,1017.7 L1324.8,1014.9 L1326.1,1012.2 L1327.3,1009.5 L1328.6,1006.8 L1329.9,1004.0 L1331.1,1001.3 L1332.4,998.6 L1333.6,995.8 L1334.8,993.1 L1336.1,990.4 L1337.3,987.6 L1338.5,984.9 L1339.7,982.1 L1340.9,979.4 L1342.1,976.6 L1343.3,973.9 L1344.5,971.1 L1345.7,968.4 L1346.9,965.6 L1348.1,962.9 L1349.3,960.1 L1350.4,957.3 L1351.6,954.6 L1352.7,951.8 L1353.9,949.0 L1355.1,946.3 L1356.2,943.5 L1357.3,940.7 L1358.5,937.9 L1359.6,935.2 L1360.8,932.4 L1361.9,929.6 L1363.0,926.8 L1364.1,924.1 L1365.3,921.3 L1366.4,918.5 L1367.5,915.7 L1368.6,912.9 L1369.7,910.1 L1370.8,907.3 L1371.9,904.5 L1373.1,901.8 L1374.2,899.0 L1375.3,896.2 L1376.4,893.4 L1377.5,890.6 L1378.6,887.8 L1379.6,885.0 L1380.7,882.2 L1381.8,879.4 L1382.9,876.6 L1384.0,873.8 L1385.1,871.0 L1386.2,868.2 L1387.3,865.4 L1388.4,862.6 L1389.5,859.8 L1390.5,857.0 L1391.6,854.2 L1392.7,851.4 L1393.8,848.6 L1394.9,845.8 L1396.0,843.0 L1397.1,840.2 L1398.2,837.4 L1399.2,834.6 L1400.3,831.8 L1401.4,829.0 L1402.5,826.2 L1403.6,823.4 L1404.7,820.6 L1405.8,817.8 L1406.9,815.0 L1408.0,812.2 L1409.1,809.4 L1410.2,806.6 L1411.3,803.8 L1412.4,801.0 L1413.5,798.2 L1414.6,795.4 L1415.7,792.6 L1416.9,789.8 L1418.0,787.0 L1419.1,784.2 L1420.2,781.4 L1421.3,778.6 L1422.4,775.8 L1423.6,773.0 L1424.7,770.2 L1425.8,767.4 L1426.9,764.6 L1428.1,761.8 L1429.2,759.0 L1430.3,756.2 L1431.5,753.4 L1432.6,750.6 L1433.7,747.8 L1434.8,745.0 L1436.0,742.2 L1437.1,739.4 L1438.2,736.7 L1439.4,733.9 L1440.5,731.1 L1441.6,728.3 L1442.8,725.5 L1443.9,722.7 L1445.0,719.9 L1446.1,717.1 L1447.3,714.3 L1448.4,711.5 L1449.5,708.7 L1450.7,705.9 L1451.8,703.1 L1452.9,700.3 L1454.0,697.5 L1455.1,694.7 L1456.3,691.9 L1457.4,689.1 L1458.5,686.3 L1459.6,683.5 L1460.7,680.7 L1461.8,677.9 L1462.9,675.1 L1464.0,672.3 L1465.1,669.5 L1466.2,666.7 L1467.3,663.9 L1468.4,661.1 L1469.5,658.3 L1470.6,655.5 L1471.7,652.7 L1472.8,649.9 L1473.8,647.1 L1474.9,644.3 L1476.0,641.5 L1477.0,638.6 L1478.1,635.8 L1479.2,633.0 L1480.2,630.2 L1481.3,627.4 L1482.3,624.6 L1483.4,621.8 L1484.4,618.9 L1485.5,616.1 L1486.5,613.3 L1487.5,610.5 L1488.5,607.7 L1489.6,604.9 L1490.6,602.0 L1491.6,599.2 L1492.6,596.4 L1493.6,593.6 L1494.6,590.7 L1495.6,587.9 L1496.6,585.1 L1497.5,582.2 L1498.5,579.4 L1499.5,576.6 L1500.5,573.7 L1501.4,570.9 L1502.4,568.1 L1503.4,565.2 L1504.3,562.4 L1505.3,559.6 L1506.2,556.7 L1507.2,553.9 L1508.1,551.1 L1509.1,548.2 L1510.0,545.4 L1511.0,542.5 L1511.9,539.7 L1512.9,536.9 L1513.8,534.0 L1514.7,531.2 L1515.7,528.3 L1516.6,525.5 L1517.6,522.7 L1518.5,519.8 L1519.4,517.0 L1520.4,514.1 L1521.3,511.3 L1522.3,508.5 L1523.2,505.6 L1524.2,502.8 L1525.1,499.9 L1526.1,497.1 L1527.0,494.3 L1528.0,491.4 L1528.9,488.6 L1529.9,485.7 L1530.8,482.9 L1531.8,480.1 L1532.8,477.2 L1533.7,474.4 L1534.7,471.5 L1535.7,468.7 L1536.6,465.9 L1537.6,463.0 L1538.6,460.2 L1539.6,457.4 L1540.6,454.5 L1541.6,451.7 L1542.6,448.9 L1543.6,446.1 L1544.6,443.2 L1545.6,440.4 L1546.7,437.6 L1547.7,434.7 L1548.7,431.9 L1549.8,429.1 L1550.8,426.3 L1551.9,423.5 L1552.9,420.6 L1554.0,417.8 L1555.1,415.0 L1556.1,412.2 L1557.2,409.4 L1558.3,406.6 L1559.4,403.8 L1560.5,401.0 L1561.7,398.1 L1562.8,395.3 L1563.9,392.5 L1565.1,389.7 L1566.2,386.9 L1567.4,384.1 L1568.6,381.3 L1569.7,378.5 L1570.9,375.8 L1572.1,373.0 L1573.3,370.2 L1574.6,367.4 L1575.8,364.6 L1577.0,361.8 L1578.3,359.1 L1579.5,356.3 L1580.8,353.5 L1582.1,350.8 L1583.3,348.0 L1584.6,345.3 L1585.9,342.5 L1587.2,339.8 L1588.6,337.1 L1589.9,334.3 L1591.3,331.6 L1592.6,328.9 L1594.0,326.2 L1595.4,323.5 L1596.7,320.8 L1598.1,318.1 L1599.6,315.4 L1601.0,312.7 L1602.4,310.0 L1603.9,307.4 L1605.3,304.7 L1606.8,302.0 L1608.3,299.4 L1609.7,296.8 L1611.2,294.1 L1612.8,291.5 L1614.3,288.9 L1615.8,286.3 L1617.4,283.7 L1618.9,281.1 L1620.5,278.5 L1622.1,276.0 L1623.7,273.4 L1625.3,270.9 L1626.9,268.3 L1628.6,265.8 L1630.2,263.3 L1631.9,260.8 L1633.5,258.3 L1635.2,255.8 L1636.9,253.3 L1638.6,250.9 L1640.4,248.4 L1642.1,246.0 L1643.9,243.5 L1645.6,241.1 L1647.4,238.7 L1649.2,236.3 L1651.0,233.9 L1652.8,231.6 L1654.7,229.2 L1656.5,226.9 L1658.4,224.6 L1660.2,222.2 L1662.1,219.9 L1664.0,217.7 L1666.0,215.4 L1667.9,213.1 L1669.8,210.9 L1671.8,208.6 L1673.8,206.4 L1675.8,204.2 L1677.8,202.0 L1679.8,199.9 L1681.9,197.7 L1683.9,195.6 L1686.0,193.4 L1688.1,191.3 L1690.2,189.2 L1692.3,187.2 L1694.4,185.1 L1696.6,183.1 L1698.7,181.0 L1700.9,179.0 L1703.1,177.0 L1705.3,175.1 L1707.5,173.1 L1709.8,171.2 L1712.0,169.3 L1714.3,167.4 L1716.6,165.5 L1718.9,163.6 L1721.2,161.8 L1723.6,159.9 L1725.9,158.1 L1728.3,156.3 L1730.7,154.6 L1733.1,152.8 L1735.5,151.1 L1738.0,149.4 L1740.4,147.7 L1742.9,146.0 L1745.4,144.4 L1747.9,142.7 L1750.5,141.1 L1753.0,139.5 L1755.6,138.0 L1758.1,136.4 L1760.7,134.9 L1763.3,133.4 L1765.9,131.9 L1768.6,130.4 L1771.2,129.0 L1773.9,127.5 L1776.5,126.1 L1779.2,124.7 L1781.9,123.4 L1784.6,122.0 L1787.3,120.7 L1790.1,119.4 L1792.8,118.1 L1795.5,116.9 L1798.3,115.6 L1801.1,114.4 L1803.9,113.2 L1806.7,112.0 L1809.5,110.9 L1812.3,109.7 L1815.1,108.6 L1817.9,107.5 L1820.8,106.5 L1823.6,105.4 L1826.5,104.4 L1829.3,103.4 L1832.2,102.4 L1835.1,101.4 L1838.0,100.5 L1840.9,99.5 L1843.8,98.6 L1846.7,97.8 L1849.6,96.9 L1852.5,96.1 L1855.4,95.3 L1858.3,94.5 L1861.3,93.7 L1864.2,92.9 L1867.1,92.2 L1870.1,91.5 L1873.0,90.8 L1876.0,90.2 L1878.9,89.5 L1881.9,88.9 L1884.8,88.3 L1887.8,87.7 L1890.8,87.2 L1893.7,86.7 L1896.7,86.2 L1899.7,85.7 L1902.6,85.2 L1905.6,84.8 L1908.6,84.4 L1911.5,84.0 L1914.5,83.6 L1917.5,83.3 L1920.4,82.9 L1923.4,82.6 L1926.4,82.3 L1929.3,82.1 L1932.3,81.8 L1935.3,81.6 L1938.2,81.4 L1941.2,81.3 L1944.1,81.1 L1947.1,81.0 L1950.0,80.9 L1953.0,80.8 L1955.9,80.8 L1958.8,80.8 L1961.7,80.8 L1964.7,80.8" fill="none" stroke="#00B050" stroke-width="8.5" stroke-linejoin="round" stroke-linecap="butt"/>
<path d="M328.0,1176.3 L330.7,1175.0 L333.4,1173.8 L336.2,1172.6 L338.9,1171.4 L341.6,1170.1 L344.4,1168.9 L347.1,1167.7 L349.9,1166.5 L352.6,1165.3 L355.3,1164.1 L358.1,1162.9 L360.8,1161.6 L363.6,1160.4 L366.3,1159.2 L369.1,1158.0 L371.8,1156.8 L374.6,1155.6 L377.3,1154.4 L380.1,1153.2 L382.8,1152.0 L385.6,1150.8 L388.3,1149.6 L391.1,1148.4 L393.8,1147.2 L396.6,1146.0 L399.4,1144.8 L402.1,1143.6 L404.9,1142.5 L407.6,1141.3 L410.4,1140.1 L413.2,1138.9 L415.9,1137.7 L418.7,1136.5 L421.5,1135.4 L424.2,1134.2 L427.0,1133.0 L429.8,1131.9 L432.6,1130.7 L435.3,1129.5 L438.1,1128.4 L440.9,1127.2 L443.6,1126.0 L446.4,1124.9 L449.2,1123.7 L452.0,1122.6 L454.8,1121.4 L457.5,1120.3 L460.3,1119.1 L463.1,1118.0 L465.9,1116.8 L468.7,1115.7 L471.5,1114.5 L474.3,1113.4 L477.0,1112.3 L479.8,1111.1 L482.6,1110.0 L485.4,1108.9 L488.2,1107.7 L491.0,1106.6 L493.8,1105.5 L496.6,1104.4 L499.4,1103.3 L502.2,1102.2 L505.0,1101.0 L507.8,1099.9 L510.6,1098.8 L513.4,1097.7 L516.2,1096.6 L519.0,1095.5 L521.8,1094.4 L524.6,1093.3 L527.4,1092.3 L530.2,1091.2 L533.1,1090.1 L535.9,1089.0 L538.7,1087.9 L541.5,1086.9 L544.3,1085.8 L547.1,1084.7 L549.9,1083.7 L552.8,1082.6 L555.6,1081.5 L558.4,1080.5 L561.2,1079.4 L564.0,1078.4 L566.9,1077.3 L569.7,1076.3 L572.5,1075.2 L575.4,1074.2 L578.2,1073.2 L581.0,1072.1 L583.8,1071.1 L586.7,1070.1 L589.5,1069.1 L592.3,1068.0 L595.2,1067.0 L598.0,1066.0 L600.9,1065.0 L603.7,1064.0 L606.5,1063.0 L609.4,1062.0 L612.2,1061.0 L615.1,1060.0 L617.9,1059.0 L620.8,1058.1 L623.6,1057.1 L626.5,1056.1 L629.3,1055.1 L632.2,1054.2 L635.0,1053.2 L637.9,1052.2 L640.7,1051.3 L643.6,1050.3 L646.4,1049.4 L649.3,1048.4 L652.1,1047.5 L655.0,1046.6 L657.9,1045.6 L660.7,1044.7 L663.6,1043.8 L666.5,1042.8 L669.3,1041.9 L672.2,1041.0 L675.1,1040.1 L677.9,1039.2 L680.8,1038.3 L683.7,1037.4 L686.6,1036.5 L689.4,1035.6 L692.3,1034.7 L695.2,1033.9 L698.1,1033.0 L700.9,1032.1 L703.8,1031.2 L706.7,1030.4 L709.6,1029.5 L712.5,1028.7 L715.4,1027.8 L718.3,1027.0 L721.1,1026.1 L724.0,1025.3 L726.9,1024.5 L729.8,1023.6 L732.7,1022.8 L735.6,1022.0 L738.5,1021.2 L741.4,1020.4 L744.3,1019.6 L747.2,1018.8 L750.1,1018.0 L753.0,1017.2 L755.9,1016.4 L758.8,1015.6 L761.7,1014.8 L764.6,1014.1 L767.5,1013.3 L770.4,1012.5 L773.4,1011.8 L776.3,1011.0 L779.2,1010.3 L782.1,1009.5 L785.0,1008.8 L787.9,1008.1 L790.8,1007.4 L793.8,1006.6 L796.7,1005.9 L799.6,1005.2 L802.5,1004.5 L805.5,1003.8 L808.4,1003.1 L811.3,1002.4 L814.2,1001.7 L817.2,1001.1 L820.1,1000.4 L823.0,999.7 L826.0,999.0 L828.9,998.4 L831.8,997.7 L834.8,997.1 L837.7,996.4 L840.7,995.8 L843.6,995.2 L846.5,994.6 L849.5,993.9 L852.4,993.3 L855.4,992.7 L858.3,992.1 L861.3,991.5 L864.2,990.9 L867.2,990.3 L870.1,989.7 L873.1,989.1 L876.0,988.5 L879.0,987.9 L881.9,987.3 L884.9,986.7 L887.8,986.1 L890.8,985.5 L893.7,984.9 L896.7,984.3 L899.6,983.7 L902.5,983.1 L905.5,982.5 L908.4,981.9 L911.4,981.3 L914.3,980.7 L917.3,980.1 L920.2,979.5 L923.2,978.9 L926.1,978.3 L929.0,977.7 L932.0,977.1 L934.9,976.4 L937.9,975.8 L940.8,975.2 L943.7,974.6 L946.7,973.9 L949.6,973.3 L952.5,972.6 L955.4,972.0 L958.4,971.3 L961.3,970.7 L964.2,970.0 L967.1,969.3 L970.0,968.6 L973.0,967.9 L975.9,967.2 L978.8,966.5 L981.7,965.8 L984.6,965.1 L987.5,964.4 L990.4,963.6 L993.3,962.9 L996.2,962.1 L999.1,961.4 L1002.0,960.6 L1004.9,959.8 L1007.8,959.0 L1010.7,958.3 L1013.5,957.5 L1016.4,956.7 L1019.3,955.9 L1022.2,955.1 L1025.1,954.3 L1028.0,953.5 L1030.8,952.7 L1033.7,951.9 L1036.6,951.1 L1039.5,950.3 L1042.4,949.4 L1045.3,948.6 L1048.2,947.8 L1051.1,947.0 L1053.9,946.2 L1056.8,945.4 L1059.7,944.6 L1062.6,943.8 L1065.5,943.1 L1068.4,942.3 L1071.3,941.5 L1074.2,940.7 L1077.1,940.0 L1080.1,939.2 L1083.0,938.5 L1085.9,937.7 L1088.8,937.0 L1091.7,936.3 L1094.7,935.5 L1097.6,934.8 L1100.5,934.1 L1103.5,933.4 L1106.4,932.8 L1109.4,932.1 L1112.3,931.4 L1115.3,930.8 L1118.2,930.2 L1121.2,929.6 L1124.2,929.0 L1127.2,928.4 L1130.1,927.8 L1133.1,927.2 L1136.1,926.7 L1139.1,926.2 L1142.1,925.7 L1145.0,925.2 L1148.0,924.7 L1151.0,924.2 L1154.0,923.8 L1157.0,923.4 L1160.0,923.0 L1163.0,922.6 L1166.0,922.2 L1169.0,921.9 L1172.0,921.6 L1175.0,921.3 L1178.0,921.0 L1181.0,920.7 L1184.0,920.5 L1187.0,920.3 L1189.9,920.1 L1192.9,919.9 L1195.9,919.8 L1198.9,919.7 L1201.9,919.6 L1204.9,919.6 L1207.9,919.5 L1210.9,919.5 L1213.9,919.5 L1216.8,919.6 L1219.8,919.7 L1222.8,919.8 L1225.8,919.9 L1228.8,920.1 L1231.7,920.3 L1234.7,920.5 L1237.6,920.7 L1240.6,921.0 L1243.6,921.3 L1246.5,921.7 L1249.5,922.1 L1252.4,922.5 L1255.3,922.9 L1258.3,923.4 L1261.2,923.9 L1264.1,924.5 L1267.1,925.1 L1270.0,925.7 L1272.9,926.4 L1275.8,927.1 L1278.7,927.8 L1281.6,928.6 L1284.5,929.4 L1287.3,930.2 L1290.2,931.1 L1293.1,932.0 L1295.9,932.9 L1298.8,933.9 L1301.6,934.9 L1304.5,936.0 L1307.3,937.0 L1310.1,938.1 L1313.0,939.2 L1315.8,940.3 L1318.6,941.5 L1321.4,942.7 L1324.2,943.9 L1327.0,945.1 L1329.7,946.4 L1332.5,947.7 L1335.3,949.0 L1338.0,950.3 L1340.8,951.6 L1343.5,953.0 L1346.2,954.3 L1349.0,955.7 L1351.7,957.1 L1354.4,958.5 L1357.1,960.0 L1359.8,961.4 L1362.4,962.8 L1365.1,964.3 L1367.8,965.8 L1370.4,967.2 L1373.1,968.7 L1375.7,970.2 L1378.3,971.7 L1380.9,973.2 L1383.5,974.7 L1386.1,976.3 L1388.7,977.8 L1391.3,979.4 L1393.8,980.9 L1396.4,982.5 L1398.9,984.1 L1401.4,985.7 L1404.0,987.3 L1406.5,988.9 L1408.9,990.6 L1411.4,992.3 L1413.9,993.9 L1416.3,995.6 L1418.7,997.3 L1421.2,999.1 L1423.6,1000.8 L1426.0,1002.6 L1428.3,1004.4 L1430.7,1006.2 L1433.0,1008.0 L1435.4,1009.8 L1437.7,1011.7 L1440.0,1013.6 L1442.3,1015.5 L1444.5,1017.4 L1446.8,1019.4 L1449.0,1021.4 L1451.2,1023.4 L1453.4,1025.4 L1455.6,1027.4 L1457.8,1029.5 L1460.0,1031.5 L1462.2,1033.6 L1464.3,1035.7 L1466.5,1037.8 L1468.6,1039.9 L1470.7,1042.0 L1472.8,1044.2 L1474.9,1046.3 L1477.0,1048.5 L1479.1,1050.6 L1481.2,1052.8 L1483.3,1055.0 L1485.4,1057.2 L1487.5,1059.3 L1489.6,1061.5 L1491.6,1063.7 L1493.7,1065.9 L1495.8,1068.1 L1497.9,1070.3 L1499.9,1072.5 L1502.0,1074.7 L1504.1,1076.9 L1506.2,1079.1 L1508.3,1081.3 L1510.3,1083.5 L1512.4,1085.7 L1514.5,1087.8 L1516.6,1090.0 L1518.7,1092.2 L1520.8,1094.3 L1522.9,1096.5 L1525.1,1098.6 L1527.2,1100.7 L1529.3,1102.8 L1531.5,1104.9 L1533.7,1107.0 L1535.8,1109.1 L1538.0,1111.2 L1540.2,1113.2 L1542.4,1115.2 L1544.6,1117.2 L1546.9,1119.2 L1549.1,1121.2 L1551.4,1123.1 L1553.7,1125.1 L1555.9,1127.0 L1558.3,1128.8 L1560.6,1130.7 L1562.9,1132.5 L1565.3,1134.3 L1567.7,1136.1 L1570.1,1137.9 L1572.5,1139.6 L1574.9,1141.3 L1577.4,1143.0 L1579.9,1144.7 L1582.4,1146.3 L1584.9,1147.9 L1587.4,1149.5 L1590.0,1151.0 L1592.6,1152.6 L1595.1,1154.1 L1597.7,1155.6 L1600.3,1157.0 L1603.0,1158.5 L1605.6,1159.9 L1608.3,1161.3 L1610.9,1162.7 L1613.6,1164.1 L1616.3,1165.4 L1619.0,1166.8 L1621.7,1168.1 L1624.4,1169.4 L1627.2,1170.7 L1629.9,1172.0 L1632.6,1173.3 L1635.4,1174.5 L1638.2,1175.8 L1640.9,1177.0 L1643.7,1178.2 L1646.5,1179.4 L1649.3,1180.6 L1652.0,1181.8 L1654.8,1183.0 L1657.6,1184.2 L1660.4,1185.3 L1663.2,1186.5 L1666.0,1187.6 L1668.8,1188.8 L1671.7,1189.9 L1674.5,1191.1 L1677.3,1192.2 L1680.1,1193.3 L1682.9,1194.5 L1685.7,1195.6 L1688.5,1196.7 L1691.3,1197.8 L1694.1,1199.0 L1696.9,1200.1 L1699.7,1201.2 L1702.5,1202.3 L1705.3,1203.3 L1708.1,1204.4 L1710.9,1205.5 L1713.7,1206.5 L1716.5,1207.6 L1719.3,1208.6 L1722.2,1209.6 L1725.0,1210.7 L1727.8,1211.7 L1730.6,1212.6 L1733.5,1213.6 L1736.3,1214.5 L1739.1,1215.5 L1742.0,1216.4 L1744.8,1217.3 L1747.7,1218.2 L1750.6,1219.0 L1753.4,1219.8 L1756.3,1220.7 L1759.2,1221.5 L1762.1,1222.2 L1765.0,1223.0 L1767.9,1223.7 L1770.8,1224.5 L1773.7,1225.2 L1776.6,1225.9 L1779.5,1226.5 L1782.4,1227.2 L1785.4,1227.8 L1788.3,1228.4 L1791.2,1229.0 L1794.2,1229.6 L1797.1,1230.2 L1800.1,1230.7 L1803.0,1231.3 L1806.0,1231.8 L1808.9,1232.3 L1811.9,1232.8 L1814.9,1233.2 L1817.8,1233.7 L1820.8,1234.2 L1823.8,1234.6 L1826.8,1235.0 L1829.7,1235.4 L1832.7,1235.8 L1835.7,1236.2 L1838.7,1236.5 L1841.7,1236.9 L1844.7,1237.2 L1847.7,1237.5 L1850.7,1237.9 L1853.7,1238.2 L1856.7,1238.4 L1859.7,1238.7 L1862.7,1239.0 L1865.7,1239.2 L1868.7,1239.5 L1871.7,1239.7 L1874.8,1240.0 L1877.8,1240.2 L1880.8,1240.4 L1883.8,1240.6 L1886.8,1240.8 L1889.8,1240.9 L1892.8,1241.1 L1895.8,1241.3 L1898.9,1241.4 L1901.9,1241.6 L1904.9,1241.7 L1907.9,1241.8 L1910.9,1241.9 L1913.9,1242.1 L1917.0,1242.2 L1920.0,1242.3 L1923.0,1242.4 L1926.0,1242.4 L1929.0,1242.5 L1932.0,1242.6 L1935.0,1242.7 L1938.0,1242.7 L1941.0,1242.8 L1944.0,1242.9 L1947.0,1242.9 L1950.0,1243.0 L1953.0,1243.0 L1956.0,1243.0 L1959.0,1243.1 L1962.0,1243.1 L1965.0,1243.1" fill="none" stroke="#ED7D31" stroke-width="8.5" stroke-linejoin="round" stroke-linecap="butt"/>
<path d="M328.3,205.9 L330.6,207.8 L333.0,209.6 L335.4,211.5 L337.7,213.3 L340.1,215.2 L342.4,217.1 L344.7,218.9 L347.1,220.8 L349.4,222.7 L351.8,224.6 L354.1,226.4 L356.4,228.3 L358.8,230.2 L361.1,232.1 L363.4,234.0 L365.8,235.9 L368.1,237.8 L370.4,239.7 L372.7,241.6 L375.1,243.5 L377.4,245.4 L379.7,247.3 L382.0,249.2 L384.3,251.2 L386.7,253.1 L389.0,255.0 L391.3,256.9 L393.6,258.8 L395.9,260.8 L398.2,262.7 L400.5,264.6 L402.8,266.5 L405.2,268.5 L407.5,270.4 L409.8,272.3 L412.1,274.3 L414.4,276.2 L416.7,278.1 L419.0,280.1 L421.3,282.0 L423.6,283.9 L425.9,285.9 L428.2,287.8 L430.5,289.8 L432.8,291.7 L435.2,293.6 L437.5,295.6 L439.8,297.5 L442.1,299.4 L444.4,301.4 L446.7,303.3 L449.0,305.2 L451.3,307.2 L453.6,309.1 L455.9,311.1 L458.3,313.0 L460.6,314.9 L462.9,316.9 L465.2,318.8 L467.5,320.7 L469.8,322.6 L472.1,324.6 L474.5,326.5 L476.8,328.4 L479.1,330.3 L481.4,332.3 L483.7,334.2 L486.1,336.1 L488.4,338.0 L490.7,339.9 L493.1,341.8 L495.4,343.7 L497.7,345.7 L500.1,347.6 L502.4,349.5 L504.7,351.4 L507.1,353.3 L509.4,355.2 L511.8,357.0 L514.1,358.9 L516.5,360.8 L518.8,362.7 L521.2,364.6 L523.5,366.5 L525.9,368.3 L528.2,370.2 L530.6,372.1 L533.0,373.9 L535.3,375.8 L537.7,377.6 L540.1,379.5 L542.4,381.3 L544.8,383.2 L547.2,385.0 L549.6,386.8 L552.0,388.7 L554.4,390.5 L556.8,392.3 L559.2,394.1 L561.6,396.0 L564.0,397.8 L566.4,399.6 L568.8,401.4 L571.2,403.1 L573.6,404.9 L576.0,406.7 L578.5,408.5 L580.9,410.3 L583.3,412.0 L585.8,413.8 L588.2,415.5 L590.6,417.3 L593.1,419.0 L595.5,420.8 L598.0,422.5 L600.5,424.2 L602.9,425.9 L605.4,427.7 L607.9,429.4 L610.3,431.1 L612.8,432.8 L615.3,434.5 L617.8,436.1 L620.3,437.8 L622.8,439.5 L625.3,441.2 L627.8,442.8 L630.3,444.5 L632.8,446.1 L635.3,447.8 L637.8,449.4 L640.3,451.1 L642.9,452.7 L645.4,454.3 L647.9,455.9 L650.5,457.5 L653.0,459.1 L655.5,460.7 L658.1,462.3 L660.6,463.9 L663.2,465.5 L665.7,467.1 L668.3,468.7 L670.9,470.3 L673.4,471.8 L676.0,473.4 L678.6,475.0 L681.1,476.5 L683.7,478.1 L686.3,479.6 L688.9,481.1 L691.5,482.7 L694.0,484.2 L696.6,485.7 L699.2,487.3 L701.8,488.8 L704.4,490.3 L707.0,491.8 L709.6,493.3 L712.2,494.8 L714.8,496.3 L717.5,497.8 L720.1,499.3 L722.7,500.7 L725.3,502.2 L727.9,503.7 L730.6,505.2 L733.2,506.6 L735.8,508.1 L738.5,509.5 L741.1,511.0 L743.7,512.4 L746.4,513.9 L749.0,515.3 L751.7,516.8 L754.3,518.2 L757.0,519.6 L759.6,521.1 L762.3,522.5 L764.9,523.9 L767.6,525.3 L770.2,526.7 L772.9,528.1 L775.6,529.5 L778.2,530.9 L780.9,532.3 L783.6,533.7 L786.2,535.1 L788.9,536.5 L791.6,537.9 L794.3,539.3 L796.9,540.7 L799.6,542.0 L802.3,543.4 L805.0,544.8 L807.7,546.1 L810.3,547.5 L813.0,548.8 L815.7,550.2 L818.4,551.6 L821.1,552.9 L823.8,554.3 L826.5,555.6 L829.2,556.9 L831.9,558.3 L834.6,559.6 L837.3,560.9 L840.0,562.3 L842.7,563.6 L845.4,564.9 L848.1,566.3 L850.8,567.6 L853.5,568.9 L856.2,570.2 L858.9,571.6 L861.6,572.9 L864.3,574.2 L867.0,575.5 L869.7,576.9 L872.4,578.2 L875.1,579.5 L877.8,580.8 L880.5,582.2 L883.2,583.5 L885.9,584.8 L888.6,586.1 L891.3,587.5 L894.0,588.8 L896.7,590.1 L899.4,591.5 L902.1,592.8 L904.8,594.2 L907.5,595.5 L910.2,596.9 L912.9,598.2 L915.5,599.6 L918.2,600.9 L920.9,602.3 L923.6,603.7 L926.2,605.0 L928.9,606.4 L931.6,607.8 L934.2,609.2 L936.9,610.6 L939.6,611.9 L942.2,613.3 L944.9,614.8 L947.5,616.2 L950.2,617.6 L952.8,619.0 L955.5,620.4 L958.1,621.9 L960.7,623.3 L963.3,624.8 L966.0,626.2 L968.6,627.7 L971.2,629.1 L973.8,630.6 L976.4,632.1 L979.0,633.6 L981.6,635.1 L984.2,636.6 L986.8,638.1 L989.4,639.7 L991.9,641.2 L994.5,642.7 L997.1,644.3 L999.6,645.9 L1002.2,647.4 L1004.8,649.0 L1007.3,650.6 L1009.8,652.2 L1012.4,653.8 L1014.9,655.4 L1017.4,657.0 L1020.0,658.6 L1022.5,660.3 L1025.0,661.9 L1027.5,663.5 L1030.0,665.2 L1032.5,666.8 L1035.0,668.5 L1037.5,670.2 L1040.0,671.9 L1042.5,673.6 L1045.0,675.3 L1047.5,677.0 L1050.0,678.7 L1052.4,680.4 L1054.9,682.1 L1057.4,683.8 L1059.8,685.6 L1062.3,687.3 L1064.7,689.0 L1067.2,690.8 L1069.6,692.6 L1072.1,694.3 L1074.5,696.1 L1077.0,697.9 L1079.4,699.7 L1081.8,701.4 L1084.3,703.2 L1086.7,705.0 L1089.1,706.8 L1091.5,708.6 L1093.9,710.5 L1096.4,712.3 L1098.8,714.1 L1101.2,715.9 L1103.6,717.8 L1106.0,719.6 L1108.4,721.4 L1110.8,723.3 L1113.2,725.1 L1115.6,727.0 L1118.0,728.8 L1120.4,730.7 L1122.7,732.6 L1125.1,734.4 L1127.5,736.3 L1129.9,738.2 L1132.3,740.1 L1134.6,741.9 L1137.0,743.8 L1139.4,745.7 L1141.7,747.6 L1144.1,749.5 L1146.5,751.4 L1148.8,753.3 L1151.2,755.2 L1153.6,757.1 L1155.9,759.0 L1158.3,760.9 L1160.6,762.8 L1163.0,764.7 L1165.3,766.6 L1167.7,768.5 L1170.0,770.4 L1172.4,772.3 L1174.7,774.2 L1177.0,776.1 L1179.4,778.0 L1181.7,779.9 L1184.1,781.8 L1186.4,783.7 L1188.7,785.6 L1191.1,787.5 L1193.4,789.4 L1195.8,791.3 L1198.1,793.2 L1200.4,795.1 L1202.7,797.0 L1205.1,798.9 L1207.4,800.8 L1209.7,802.7 L1212.1,804.5 L1214.4,806.4 L1216.7,808.3 L1219.0,810.2 L1221.4,812.1 L1223.7,814.0 L1226.0,815.8 L1228.3,817.7 L1230.7,819.6 L1233.0,821.5 L1235.3,823.3 L1237.6,825.2 L1239.9,827.1 L1242.2,829.0 L1244.6,830.8 L1246.9,832.7 L1249.2,834.6 L1251.5,836.5 L1253.8,838.4 L1256.1,840.2 L1258.4,842.1 L1260.7,844.0 L1262.9,845.9 L1265.2,847.8 L1267.5,849.7 L1269.8,851.6 L1272.1,853.5 L1274.3,855.5 L1276.6,857.4 L1278.9,859.3 L1281.1,861.2 L1283.4,863.2 L1285.6,865.1 L1287.9,867.1 L1290.1,869.0 L1292.3,871.0 L1294.6,873.0 L1296.8,875.0 L1299.0,876.9 L1301.2,878.9 L1303.4,880.9 L1305.6,883.0 L1307.8,885.0 L1310.0,887.0 L1312.2,889.1 L1314.4,891.1 L1316.6,893.2 L1318.7,895.2 L1320.9,897.3 L1323.1,899.4 L1325.2,901.5 L1327.4,903.6 L1329.5,905.7 L1331.7,907.8 L1333.8,909.9 L1335.9,912.0 L1338.1,914.1 L1340.2,916.3 L1342.3,918.4 L1344.4,920.6 L1346.5,922.7 L1348.6,924.9 L1350.8,927.0 L1352.9,929.2 L1355.0,931.4 L1357.1,933.5 L1359.2,935.7 L1361.2,937.9 L1363.3,940.1 L1365.4,942.3 L1367.5,944.5 L1369.6,946.7 L1371.7,948.9 L1373.8,951.1 L1375.8,953.3 L1377.9,955.5 L1380.0,957.7 L1382.1,960.0 L1384.1,962.2 L1386.2,964.4 L1388.3,966.6 L1390.3,968.8 L1392.4,971.1 L1394.5,973.3 L1396.6,975.5 L1398.6,977.8 L1400.7,980.0 L1402.7,982.2 L1404.8,984.4 L1406.9,986.7 L1408.9,988.9 L1411.0,991.1 L1413.1,993.4 L1415.1,995.6 L1417.2,997.8 L1419.3,1000.1 L1421.3,1002.3 L1423.4,1004.5 L1425.5,1006.7 L1427.6,1009.0 L1429.6,1011.2 L1431.7,1013.4 L1433.8,1015.6 L1435.9,1017.8 L1437.9,1020.1 L1440.0,1022.3 L1442.1,1024.5 L1444.2,1026.7 L1446.3,1028.9 L1448.4,1031.1 L1450.5,1033.3 L1452.6,1035.5 L1454.7,1037.7 L1456.8,1039.8 L1458.9,1042.0 L1461.0,1044.2 L1463.1,1046.4 L1465.2,1048.5 L1467.3,1050.7 L1469.4,1052.8 L1471.6,1055.0 L1473.7,1057.1 L1475.8,1059.3 L1478.0,1061.4 L1480.1,1063.5 L1482.2,1065.7 L1484.4,1067.8 L1486.5,1069.9 L1488.7,1072.0 L1490.9,1074.1 L1493.0,1076.1 L1495.2,1078.2 L1497.4,1080.3 L1499.6,1082.4 L1501.8,1084.4 L1504.0,1086.5 L1506.2,1088.5 L1508.4,1090.5 L1510.6,1092.6 L1512.8,1094.6 L1515.0,1096.6 L1517.3,1098.6 L1519.5,1100.6 L1521.7,1102.5 L1524.0,1104.5 L1526.2,1106.4 L1528.5,1108.4 L1530.8,1110.3 L1533.0,1112.3 L1535.3,1114.2 L1537.6,1116.1 L1539.9,1118.0 L1542.2,1119.9 L1544.5,1121.7 L1546.9,1123.6 L1549.2,1125.4 L1551.5,1127.3 L1553.9,1129.1 L1556.2,1130.9 L1558.6,1132.7 L1561.0,1134.5 L1563.3,1136.3 L1565.7,1138.0 L1568.1,1139.8 L1570.5,1141.5 L1573.0,1143.2 L1575.4,1144.9 L1577.8,1146.6 L1580.3,1148.3 L1582.7,1150.0 L1585.2,1151.6 L1587.6,1153.2 L1590.1,1154.9 L1592.6,1156.5 L1595.1,1158.1 L1597.6,1159.6 L1600.2,1161.2 L1602.7,1162.7 L1605.2,1164.3 L1607.8,1165.8 L1610.4,1167.3 L1612.9,1168.8 L1615.5,1170.2 L1618.1,1171.7 L1620.7,1173.1 L1623.4,1174.5 L1626.0,1175.9 L1628.6,1177.3 L1631.3,1178.6 L1634.0,1180.0 L1636.7,1181.3 L1639.3,1182.6 L1642.1,1183.9 L1644.8,1185.2 L1647.5,1186.4 L1650.2,1187.6 L1653.0,1188.9 L1655.8,1190.0 L1658.6,1191.2 L1661.4,1192.4 L1664.2,1193.5 L1667.0,1194.6 L1669.8,1195.7 L1672.7,1196.8 L1675.5,1197.8 L1678.4,1198.9 L1681.2,1199.9 L1684.1,1200.9 L1687.0,1201.8 L1689.9,1202.8 L1692.8,1203.7 L1695.7,1204.6 L1698.7,1205.5 L1701.6,1206.4 L1704.5,1207.2 L1707.5,1208.0 L1710.4,1208.8 L1713.3,1209.6 L1716.3,1210.3 L1719.3,1211.1 L1722.2,1211.8 L1725.2,1212.5 L1728.1,1213.1 L1731.1,1213.8 L1734.1,1214.4 L1737.0,1215.0 L1740.0,1215.5 L1743.0,1216.1 L1746.0,1216.6 L1748.9,1217.1 L1751.9,1217.6 L1754.9,1218.1 L1757.9,1218.6 L1760.8,1219.1 L1763.8,1219.5 L1766.8,1220.0 L1769.8,1220.4 L1772.7,1220.9 L1775.7,1221.3 L1778.7,1221.7 L1781.7,1222.1 L1784.6,1222.6 L1787.6,1223.0 L1790.6,1223.4 L1793.5,1223.8 L1796.5,1224.2 L1799.5,1224.6 L1802.4,1225.1 L1805.4,1225.5 L1808.3,1225.9 L1811.3,1226.3 L1814.3,1226.7 L1817.2,1227.2 L1820.2,1227.6 L1823.1,1228.1 L1826.1,1228.5 L1829.0,1229.0 L1832.0,1229.4 L1834.9,1229.9 L1837.9,1230.4 L1840.8,1230.9 L1843.8,1231.4 L1846.7,1231.9 L1849.7,1232.4 L1852.6,1232.9 L1855.6,1233.5 L1858.5,1234.0 L1861.4,1234.6 L1864.4,1235.2 L1867.3,1235.7 L1870.2,1236.3 L1873.2,1236.9 L1876.1,1237.5 L1879.0,1238.1 L1882.0,1238.7 L1884.9,1239.3 L1887.8,1239.8 L1890.8,1240.4 L1893.7,1241.0 L1896.7,1241.6 L1899.6,1242.2 L1902.5,1242.7 L1905.5,1243.3 L1908.4,1243.8 L1911.4,1244.4 L1914.3,1244.9 L1917.3,1245.4 L1920.2,1245.9 L1923.2,1246.4 L1926.1,1246.8 L1929.1,1247.3 L1932.1,1247.7 L1935.0,1248.1 L1938.0,1248.5 L1941.0,1248.9 L1943.9,1249.2 L1946.9,1249.5 L1949.9,1249.8 L1952.9,1250.1 L1955.9,1250.3 L1958.9,1250.5 L1961.9,1250.7 L1964.9,1250.9" fill="none" stroke="#0070C0" stroke-width="8.5" stroke-linejoin="round" stroke-linecap="butt"/>
<path d="M328.0,1180.8 L330.7,1179.6 L333.4,1178.3 L336.1,1177.1 L338.9,1175.9 L341.6,1174.6 L344.3,1173.4 L347.1,1172.2 L349.8,1171.0 L352.5,1169.8 L355.3,1168.5 L358.0,1167.3 L360.8,1166.1 L363.5,1164.9 L366.3,1163.7 L369.0,1162.4 L371.7,1161.2 L374.5,1160.0 L377.2,1158.8 L380.0,1157.6 L382.8,1156.4 L385.5,1155.2 L388.3,1154.0 L391.0,1152.8 L393.8,1151.6 L396.5,1150.4 L399.3,1149.2 L402.1,1148.0 L404.8,1146.8 L407.6,1145.6 L410.3,1144.4 L413.1,1143.3 L415.9,1142.1 L418.6,1140.9 L421.4,1139.7 L424.2,1138.5 L427.0,1137.4 L429.7,1136.2 L432.5,1135.0 L435.3,1133.8 L438.1,1132.7 L440.8,1131.5 L443.6,1130.3 L446.4,1129.2 L449.2,1128.0 L452.0,1126.9 L454.7,1125.7 L457.5,1124.6 L460.3,1123.4 L463.1,1122.3 L465.9,1121.1 L468.7,1120.0 L471.5,1118.9 L474.3,1117.7 L477.1,1116.6 L479.9,1115.5 L482.6,1114.3 L485.4,1113.2 L488.2,1112.1 L491.0,1111.0 L493.8,1109.9 L496.6,1108.7 L499.4,1107.6 L502.2,1106.5 L505.1,1105.4 L507.9,1104.3 L510.7,1103.2 L513.5,1102.1 L516.3,1101.0 L519.1,1099.9 L521.9,1098.9 L524.7,1097.8 L527.5,1096.7 L530.3,1095.6 L533.2,1094.6 L536.0,1093.5 L538.8,1092.4 L541.6,1091.4 L544.4,1090.3 L547.2,1089.2 L550.1,1088.2 L552.9,1087.1 L555.7,1086.1 L558.5,1085.1 L561.4,1084.0 L564.2,1083.0 L567.0,1081.9 L569.8,1080.9 L572.7,1079.9 L575.5,1078.9 L578.3,1077.9 L581.2,1076.9 L584.0,1075.8 L586.8,1074.8 L589.7,1073.8 L592.5,1072.8 L595.4,1071.9 L598.2,1070.9 L601.0,1069.9 L603.9,1068.9 L606.7,1067.9 L609.6,1066.9 L612.4,1066.0 L615.3,1065.0 L618.1,1064.1 L620.9,1063.1 L623.8,1062.2 L626.6,1061.2 L629.5,1060.3 L632.4,1059.4 L635.2,1058.4 L638.1,1057.5 L640.9,1056.6 L643.8,1055.7 L646.6,1054.8 L649.5,1053.9 L652.4,1053.0 L655.2,1052.1 L658.1,1051.3 L661.0,1050.4 L663.8,1049.6 L666.7,1048.7 L669.6,1047.9 L672.5,1047.0 L675.4,1046.2 L678.2,1045.4 L681.1,1044.6 L684.0,1043.8 L686.9,1043.0 L689.8,1042.2 L692.7,1041.5 L695.6,1040.7 L698.5,1039.9 L701.4,1039.2 L704.3,1038.5 L707.2,1037.8 L710.1,1037.0 L713.0,1036.3 L715.9,1035.7 L718.9,1035.0 L721.8,1034.3 L724.7,1033.7 L727.6,1033.0 L730.6,1032.4 L733.5,1031.8 L736.4,1031.1 L739.4,1030.5 L742.3,1030.0 L745.2,1029.4 L748.2,1028.8 L751.1,1028.3 L754.1,1027.7 L757.1,1027.2 L760.0,1026.7 L763.0,1026.2 L765.9,1025.7 L768.9,1025.2 L771.9,1024.8 L774.9,1024.3 L777.8,1023.9 L780.8,1023.5 L783.8,1023.1 L786.8,1022.7 L789.8,1022.3 L792.8,1021.9 L795.7,1021.5 L798.7,1021.2 L801.7,1020.9 L804.7,1020.5 L807.7,1020.2 L810.7,1019.9 L813.7,1019.6 L816.7,1019.4 L819.7,1019.1 L822.7,1018.9 L825.7,1018.6 L828.7,1018.4 L831.8,1018.2 L834.8,1018.0 L837.8,1017.8 L840.8,1017.6 L843.8,1017.5 L846.8,1017.3 L849.8,1017.2 L852.8,1017.1 L855.9,1016.9 L858.9,1016.8 L861.9,1016.8 L864.9,1016.7 L867.9,1016.6 L870.9,1016.6 L874.0,1016.5 L877.0,1016.5 L880.0,1016.5 L883.0,1016.5 L886.0,1016.5 L889.0,1016.5 L892.1,1016.6 L895.1,1016.6 L898.1,1016.7 L901.1,1016.8 L904.1,1016.9 L907.1,1017.0 L910.1,1017.1 L913.2,1017.2 L916.2,1017.3 L919.2,1017.5 L922.2,1017.7 L925.2,1017.8 L928.2,1018.0 L931.2,1018.2 L934.2,1018.4 L937.2,1018.7 L940.2,1018.9 L943.2,1019.2 L946.2,1019.4 L949.2,1019.7 L952.2,1020.0 L955.2,1020.3 L958.2,1020.6 L961.2,1020.9 L964.2,1021.3 L967.2,1021.6 L970.2,1022.0 L973.1,1022.4 L976.1,1022.8 L979.1,1023.2 L982.1,1023.6 L985.1,1024.0 L988.0,1024.4 L991.0,1024.9 L994.0,1025.4 L996.9,1025.8 L999.9,1026.3 L1002.9,1026.8 L1005.8,1027.3 L1008.8,1027.8 L1011.7,1028.4 L1014.7,1028.9 L1017.6,1029.5 L1020.6,1030.1 L1023.5,1030.6 L1026.5,1031.2 L1029.4,1031.8 L1032.3,1032.5 L1035.3,1033.1 L1038.2,1033.7 L1041.1,1034.4 L1044.1,1035.1 L1047.0,1035.7 L1049.9,1036.4 L1052.8,1037.1 L1055.7,1037.8 L1058.6,1038.6 L1061.6,1039.3 L1064.5,1040.1 L1067.4,1040.8 L1070.3,1041.6 L1073.2,1042.4 L1076.0,1043.2 L1078.9,1044.0 L1081.8,1044.8 L1084.7,1045.6 L1087.6,1046.5 L1090.4,1047.3 L1093.3,1048.2 L1096.2,1049.1 L1099.0,1050.0 L1101.9,1050.9 L1104.8,1051.8 L1107.6,1052.7 L1110.5,1053.7 L1113.3,1054.6 L1116.1,1055.6 L1119.0,1056.5 L1121.8,1057.5 L1124.6,1058.5 L1127.5,1059.5 L1130.3,1060.5 L1133.1,1061.5 L1135.9,1062.6 L1138.7,1063.6 L1141.5,1064.7 L1144.3,1065.7 L1147.1,1066.8 L1149.9,1067.9 L1152.7,1068.9 L1155.5,1070.0 L1158.3,1071.1 L1161.1,1072.2 L1163.9,1073.4 L1166.7,1074.5 L1169.5,1075.6 L1172.2,1076.7 L1175.0,1077.9 L1177.8,1079.0 L1180.6,1080.2 L1183.3,1081.3 L1186.1,1082.5 L1188.9,1083.7 L1191.7,1084.8 L1194.4,1086.0 L1197.2,1087.2 L1200.0,1088.4 L1202.7,1089.6 L1205.5,1090.8 L1208.2,1092.0 L1211.0,1093.2 L1213.8,1094.4 L1216.5,1095.6 L1219.3,1096.8 L1222.0,1098.0 L1224.8,1099.2 L1227.5,1100.4 L1230.3,1101.6 L1233.1,1102.8 L1235.8,1104.1 L1238.6,1105.3 L1241.3,1106.5 L1244.1,1107.7 L1246.8,1108.9 L1249.6,1110.1 L1252.3,1111.4 L1255.1,1112.6 L1257.9,1113.8 L1260.6,1115.0 L1263.4,1116.2 L1266.1,1117.4 L1268.9,1118.6 L1271.7,1119.9 L1274.4,1121.1 L1277.2,1122.3 L1279.9,1123.5 L1282.7,1124.7 L1285.5,1125.9 L1288.2,1127.0 L1291.0,1128.2 L1293.8,1129.4 L1296.6,1130.6 L1299.3,1131.8 L1302.1,1132.9 L1304.9,1134.1 L1307.7,1135.3 L1310.5,1136.4 L1313.2,1137.6 L1316.0,1138.7 L1318.8,1139.8 L1321.6,1141.0 L1324.4,1142.1 L1327.2,1143.2 L1330.0,1144.3 L1332.8,1145.4 L1335.6,1146.5 L1338.4,1147.6 L1341.2,1148.7 L1344.0,1149.8 L1346.9,1150.8 L1349.7,1151.9 L1352.5,1153.0 L1355.3,1154.0 L1358.1,1155.1 L1361.0,1156.1 L1363.8,1157.1 L1366.6,1158.2 L1369.5,1159.2 L1372.3,1160.2 L1375.1,1161.2 L1378.0,1162.2 L1380.8,1163.2 L1383.7,1164.2 L1386.5,1165.2 L1389.4,1166.1 L1392.2,1167.1 L1395.1,1168.1 L1397.9,1169.0 L1400.8,1169.9 L1403.7,1170.9 L1406.5,1171.8 L1409.4,1172.7 L1412.2,1173.7 L1415.1,1174.6 L1418.0,1175.5 L1420.9,1176.4 L1423.7,1177.3 L1426.6,1178.2 L1429.5,1179.0 L1432.4,1179.9 L1435.2,1180.8 L1438.1,1181.6 L1441.0,1182.5 L1443.9,1183.3 L1446.8,1184.2 L1449.7,1185.0 L1452.6,1185.8 L1455.5,1186.7 L1458.4,1187.5 L1461.3,1188.3 L1464.2,1189.1 L1467.1,1189.9 L1470.0,1190.6 L1472.9,1191.4 L1475.8,1192.2 L1478.7,1193.0 L1481.6,1193.7 L1484.5,1194.4 L1487.4,1195.2 L1490.4,1195.9 L1493.3,1196.6 L1496.2,1197.3 L1499.1,1198.1 L1502.0,1198.8 L1505.0,1199.4 L1507.9,1200.1 L1510.8,1200.8 L1513.8,1201.5 L1516.7,1202.1 L1519.6,1202.8 L1522.6,1203.4 L1525.5,1204.0 L1528.4,1204.6 L1531.4,1205.3 L1534.3,1205.9 L1537.3,1206.5 L1540.2,1207.0 L1543.1,1207.6 L1546.1,1208.2 L1549.0,1208.7 L1552.0,1209.3 L1554.9,1209.8 L1557.9,1210.4 L1560.9,1210.9 L1563.8,1211.4 L1566.8,1211.9 L1569.7,1212.4 L1572.7,1212.9 L1575.7,1213.3 L1578.6,1213.8 L1581.6,1214.3 L1584.6,1214.7 L1587.5,1215.2 L1590.5,1215.6 L1593.5,1216.0 L1596.4,1216.4 L1599.4,1216.9 L1602.4,1217.3 L1605.4,1217.7 L1608.3,1218.1 L1611.3,1218.4 L1614.3,1218.8 L1617.3,1219.2 L1620.3,1219.6 L1623.3,1219.9 L1626.2,1220.3 L1629.2,1220.6 L1632.2,1221.0 L1635.2,1221.3 L1638.2,1221.6 L1641.2,1222.0 L1644.2,1222.3 L1647.1,1222.6 L1650.1,1222.9 L1653.1,1223.2 L1656.1,1223.5 L1659.1,1223.8 L1662.1,1224.1 L1665.1,1224.4 L1668.1,1224.7 L1671.1,1225.0 L1674.1,1225.2 L1677.1,1225.5 L1680.1,1225.8 L1683.1,1226.1 L1686.1,1226.3 L1689.1,1226.6 L1692.1,1226.8 L1695.1,1227.1 L1698.1,1227.3 L1701.1,1227.6 L1704.1,1227.8 L1707.1,1228.1 L1710.1,1228.3 L1713.1,1228.6 L1716.1,1228.8 L1719.1,1229.1 L1722.1,1229.3 L1725.1,1229.5 L1728.1,1229.8 L1731.1,1230.0 L1734.1,1230.2 L1737.1,1230.5 L1740.1,1230.7 L1743.1,1230.9 L1746.1,1231.2 L1749.1,1231.4 L1752.1,1231.6 L1755.1,1231.9 L1758.1,1232.1 L1761.1,1232.3 L1764.1,1232.6 L1767.1,1232.8 L1770.1,1233.1 L1773.1,1233.3 L1776.1,1233.5 L1779.1,1233.8 L1782.1,1234.0 L1785.1,1234.3 L1788.1,1234.5 L1791.1,1234.7 L1794.1,1235.0 L1797.1,1235.2 L1800.1,1235.5 L1803.1,1235.7 L1806.1,1236.0 L1809.1,1236.2 L1812.1,1236.5 L1815.1,1236.7 L1818.1,1237.0 L1821.1,1237.3 L1824.1,1237.5 L1827.1,1237.8 L1830.1,1238.0 L1833.1,1238.3 L1836.1,1238.5 L1839.1,1238.8 L1842.1,1239.0 L1845.1,1239.3 L1848.1,1239.6 L1851.1,1239.8 L1854.1,1240.1 L1857.1,1240.3 L1860.1,1240.6 L1863.1,1240.8 L1866.1,1241.1 L1869.1,1241.4 L1872.1,1241.6 L1875.1,1241.9 L1878.1,1242.1 L1881.0,1242.4 L1884.0,1242.6 L1887.0,1242.9 L1890.0,1243.1 L1893.0,1243.4 L1896.0,1243.6 L1899.0,1243.9 L1902.0,1244.1 L1905.0,1244.3 L1908.0,1244.6 L1911.0,1244.8 L1914.0,1245.1 L1917.0,1245.3 L1920.0,1245.5 L1923.0,1245.8 L1926.0,1246.0 L1929.0,1246.2 L1932.0,1246.4 L1935.0,1246.7 L1938.0,1246.9 L1940.9,1247.1 L1943.9,1247.3 L1946.9,1247.6 L1949.9,1247.8 L1952.9,1248.0 L1955.9,1248.2 L1958.9,1248.4 L1961.9,1248.6 L1964.9,1248.8" fill="none" stroke="#70AD47" stroke-width="8.5" stroke-linejoin="round" stroke-linecap="butt"/>
<defs><linearGradient id="fadeG" gradientUnits="userSpaceOnUse" x1="1600" y1="0" x2="1890" y2="0"><stop offset="0" stop-color="#000"/><stop offset="0.12" stop-color="#fff"/><stop offset="0.83" stop-color="#fff"/><stop offset="1" stop-color="#000"/></linearGradient><mask id="fadeM" maskUnits="userSpaceOnUse" x="0" y="0" width="2053" height="1645"><rect x="0" y="0" width="2053" height="1645" fill="url(#fadeG)"/></mask></defs>
<g mask="url(#fadeM)"><path d="M1601.1,1103.8 L1603.2,1106.0 L1605.2,1108.2 L1607.3,1110.3 L1609.4,1112.5 L1611.5,1114.7 L1613.6,1116.8 L1615.7,1118.9 L1617.9,1121.0 L1620.0,1123.1 L1622.2,1125.2 L1624.4,1127.2 L1626.6,1129.3 L1628.8,1131.3 L1631.0,1133.3 L1633.2,1135.2 L1635.5,1137.2 L1637.8,1139.1 L1640.1,1141.0 L1642.4,1142.9 L1644.7,1144.7 L1647.1,1146.6 L1649.4,1148.4 L1651.8,1150.2 L1654.2,1152.0 L1656.6,1153.7 L1659.0,1155.5 L1661.5,1157.2 L1663.9,1158.9 L1666.4,1160.5 L1668.9,1162.2 L1671.4,1163.8 L1673.9,1165.4 L1676.4,1167.0 L1678.9,1168.6 L1681.5,1170.1 L1684.0,1171.6 L1686.6,1173.2 L1689.2,1174.6 L1691.8,1176.1 L1694.4,1177.5 L1697.0,1179.0 L1699.7,1180.4 L1702.3,1181.8 L1705.0,1183.1 L1707.7,1184.5 L1710.3,1185.8 L1713.0,1187.1 L1715.7,1188.4 L1718.4,1189.7 L1721.2,1190.9 L1723.9,1192.1 L1726.6,1193.3 L1729.4,1194.5 L1732.2,1195.7 L1734.9,1196.8 L1737.7,1198.0 L1740.5,1199.1 L1743.3,1200.2 L1746.1,1201.2 L1748.9,1202.3 L1751.8,1203.3 L1754.6,1204.4 L1757.4,1205.4 L1760.3,1206.3 L1763.1,1207.3 L1766.0,1208.2 L1768.9,1209.2 L1771.8,1210.1 L1774.6,1211.0 L1777.5,1211.8 L1780.4,1212.7 L1783.3,1213.5 L1786.2,1214.3 L1789.1,1215.1 L1792.1,1215.9 L1795.0,1216.7 L1797.9,1217.4 L1800.9,1218.2 L1803.8,1218.9 L1806.7,1219.6 L1809.7,1220.3 L1812.6,1220.9 L1815.6,1221.6 L1818.6,1222.2 L1821.5,1222.9 L1824.5,1223.5 L1827.5,1224.1 L1830.4,1224.6 L1833.4,1225.2 L1836.4,1225.7 L1839.4,1226.3 L1842.4,1226.8 L1845.4,1227.3 L1848.3,1227.8 L1851.3,1228.3 L1854.3,1228.7 L1857.3,1229.2 L1860.3,1229.6 L1863.3,1230.1 L1866.3,1230.5 L1869.3,1230.9 L1872.3,1231.3 L1875.3,1231.7 L1878.3,1232.0 L1881.3,1232.4 L1884.3,1232.7 L1887.3,1233.1" fill="none" stroke="#000000" stroke-width="8.5" stroke-linejoin="round" stroke-linecap="butt"/></g>
<rect x="328.0" y="66.0" width="1640.5" height="1324.0" fill="none" stroke="#000" stroke-width="7.0" stroke-linejoin="miter"/>
<path d="M279.0,66.0H328.0 M284.0,362.3H328.0 M284.0,656.0H328.0 M284.0,954.0H328.0 M284.0,1243.0H328.0 M328.0,1390.0V1439.0 M657.4,1390.0V1439.0 M988.5,1390.0V1439.0 M1315.8,1390.0V1439.0 M1643.8,1390.0V1439.0 M1966.5,1390.0V1439.0" stroke="#000" stroke-width="7.0" fill="none"/>
<text transform="translate(279.71 83.00) scale(1 1.040)" font-family="Liberation Sans, Arial, sans-serif" font-weight="bold" font-size="58.80" fill="#000" text-anchor="end">2.0</text>
<text transform="translate(279.24 378.20) scale(1 1.040)" font-family="Liberation Sans, Arial, sans-serif" font-weight="bold" font-size="58.80" fill="#000" text-anchor="end">1.5</text>
<text transform="translate(280.21 674.90) scale(1 1.040)" font-family="Liberation Sans, Arial, sans-serif" font-weight="bold" font-size="58.80" fill="#000" text-anchor="end">1.0</text>
<text transform="translate(283.34 973.00) scale(1 1.040)" font-family="Liberation Sans, Arial, sans-serif" font-weight="bold" font-size="58.80" fill="#000" text-anchor="end">0.5</text>
<text transform="translate(274.41 1264.80) scale(1 1.040)" font-family="Liberation Sans, Arial, sans-serif" font-weight="bold" font-size="58.80" fill="#000" text-anchor="end">0.0</text>
<text transform="translate(327.00 1505.40) scale(1 1.040)" font-family="Liberation Sans, Arial, sans-serif" font-weight="bold" font-size="58.80" fill="#000" text-anchor="middle">0</text>
<text transform="translate(657.10 1499.60) scale(1 1.040)" font-family="Liberation Sans, Arial, sans-serif" font-weight="bold" font-size="58.80" fill="#000" text-anchor="middle">200</text>
<text transform="translate(983.90 1498.80) scale(1 1.040)" font-family="Liberation Sans, Arial, sans-serif" font-weight="bold" font-size="58.80" fill="#000" text-anchor="middle">400</text>
<text transform="translate(1312.20 1500.10) scale(1 1.040)" font-family="Liberation Sans, Arial, sans-serif" font-weight="bold" font-size="58.80" fill="#000" text-anchor="middle">600</text>
<text transform="translate(1643.00 1499.60) scale(1 1.040)" font-family="Liberation Sans, Arial, sans-serif" font-weight="bold" font-size="58.80" fill="#000" text-anchor="middle">800</text>
<text transform="translate(1973.50 1501.30) scale(1 1.040)" font-family="Liberation Sans, Arial, sans-serif" font-weight="bold" font-size="58.80" fill="#000" text-anchor="middle">1000</text>
<text transform="translate(788.00 1609.40) scale(1 1.040)" font-family="Liberation Sans, Arial, sans-serif" font-weight="bold" font-size="89.30" fill="#000" text-anchor="start">Temperature <tspan dx="6">(</tspan><tspan font-weight="normal" font-size="72" dx="4" dy="-7.1">˚</tspan><tspan dy="7.1" dx="1.7">C</tspan><tspan dx="2.2">)</tspan></text>
<text transform="translate(92.3 1289.3) rotate(-90) scale(1 1.040)" font-family="Liberation Sans, Arial, sans-serif" font-weight="bold" font-size="89.8" fill="#000">Equilibrium amount (kmol)</text>
<text transform="translate(993.34 536.50) scale(1 1.040)" font-family="Liberation Sans, Arial, sans-serif" font-weight="bold" font-size="89.30" fill="#000000" text-anchor="start"><tspan font-size="89.3" dy="0.00">C</tspan><tspan font-size="60.5" dy="21.15">(s)</tspan></text>
<text transform="translate(776.73 712.90) scale(1 1.040)" font-family="Liberation Sans, Arial, sans-serif" font-weight="bold" font-size="89.30" fill="#0070C0" text-anchor="start"><tspan font-size="89.3" dy="0.00">H</tspan><tspan font-size="60.5" dy="21.15">2</tspan><tspan font-size="89.3" dy="-21.15">O</tspan><tspan font-size="60.5" dy="21.15">(g)</tspan></text>
<text transform="translate(799.64 899.30) scale(1 1.040)" font-family="Liberation Sans, Arial, sans-serif" font-weight="bold" font-size="89.30" fill="#ED7D31" text-anchor="start"><tspan font-size="89.3" dy="0.00">CO</tspan><tspan font-size="60.5" dy="21.15">2(g)</tspan></text>
<text transform="translate(1348.73 248.50) scale(1 1.040)" font-family="Liberation Sans, Arial, sans-serif" font-weight="bold" font-size="89.30" fill="#FF0000" text-anchor="start"><tspan font-size="89.3" dy="0.00">H</tspan><tspan font-size="60.5" dy="21.15">2(g)</tspan></text>
<text transform="translate(1585.04 527.90) scale(1 1.040)" font-family="Liberation Sans, Arial, sans-serif" font-weight="bold" font-size="89.30" fill="#00B050" text-anchor="start"><tspan font-size="89.3" dy="0.00">CO</tspan><tspan font-size="60.5" dy="21.15">(g)</tspan></text>
<text transform="translate(1343.34 1273.30) scale(1 1.040)" font-family="Liberation Sans, Arial, sans-serif" font-weight="bold" font-size="89.30" fill="#70AD47" text-anchor="start"><tspan font-size="89.3" dy="0.00">CH</tspan><tspan font-size="60.5" dy="21.15">4(g)</tspan></text>
</svg>
</body></html>
